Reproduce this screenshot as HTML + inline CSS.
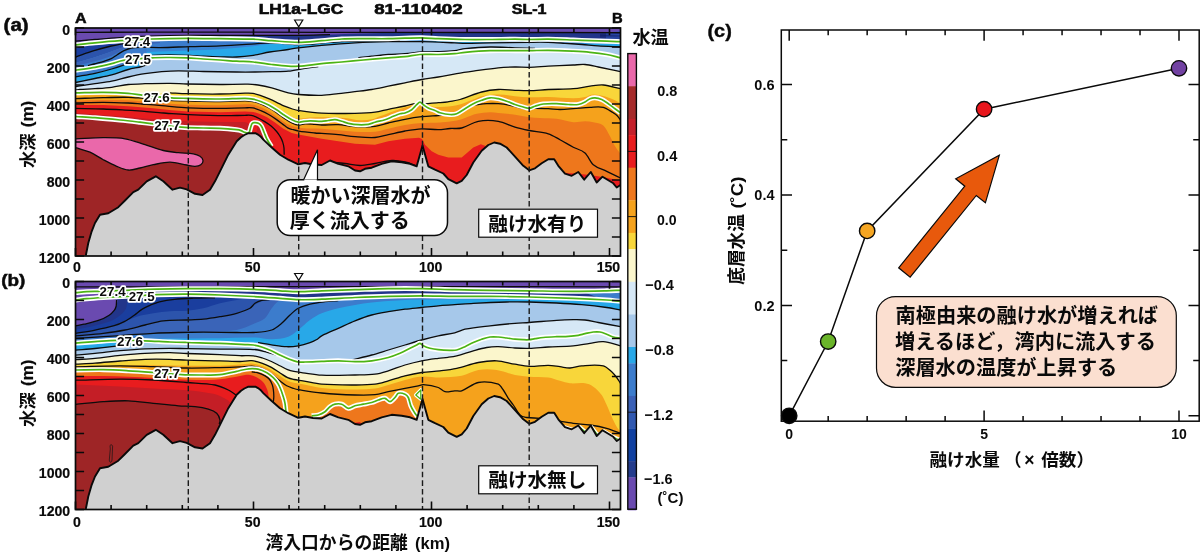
<!DOCTYPE html><html><head><meta charset="utf-8"><title>fig</title><style>
html,body{margin:0;padding:0;background:#fff}svg{display:block}text{font-family:"Liberation Sans","Noto Sans CJK JP",sans-serif;font-weight:bold;fill:#0a0a0a}
</style></head><body>
<svg width="1200" height="557" viewBox="0 0 1200 557" style="will-change:transform">
<rect width="1200" height="557" fill="#fff"/>
<defs><clipPath id="ca"><rect x="75.5" y="28" width="545" height="228"/></clipPath><clipPath id="cb"><rect x="75.5" y="281.5" width="545" height="228"/></clipPath></defs>
<g clip-path="url(#ca)">
<rect x="75.5" y="28" width="545" height="228" fill="#6a4ab0"/>
<path d="M205 37.5C210 37 215 36.3 220 36C226.67 35.6 233.33 35.46 240 35.4C260 35.22 280 35.44 300 35.3C308.33 35.24 316.67 35.04 325 34.8C331.67 34.61 338.33 34.23 345 34C351.67 33.77 358.33 33.51 365 33.4C376.67 33.21 388.33 33.11 400 33.1C473.5 33.01 547 33.1 620.5 33.1L620.5 60 L205 60 Z" fill="#22358a"/>
<path d="M606 33.1L612 32L620.5 31.2V38.5H606Z" fill="#2f52b4"/>
<path d="M600 34.3L620.5 33.4M600 35.6L620.5 35.2M600 36.9L620.5 36.8" stroke="#101a60" stroke-width="0.7" fill="none"/>
<path d="M75.5 45C75.9 44.93 76.3 44.85 76.7 44.8C82.8 44.11 88.9 43.38 95 42.8C103.33 42.01 111.67 41.26 120 40.7C130.57 39.99 141.13 39.38 151.7 39C163.37 38.58 175.03 38.35 186.7 38.3C197.8 38.25 208.9 38.55 220 38.7C231.1 38.85 242.2 38.77 253.3 39.2C259.43 39.44 265.57 40.28 271.7 40.7C280.57 41.31 289.43 42.3 298.3 42.3C306.1 42.3 313.9 41.29 321.7 40.7C328.37 40.19 335.03 39.32 341.7 39C348.9 38.65 356.1 38.75 363.3 38.7C371.63 38.65 379.97 38.8 388.3 38.7C393.87 38.63 399.43 38.35 405 38.2C410.57 38.05 416.13 37.72 421.7 37.8C427.23 37.88 432.77 38.48 438.3 38.7C447.2 39.05 456.1 39.36 465 39.5C473.33 39.63 481.67 39.55 490 39.5C498.33 39.45 506.67 39.2 515 39.2C519.73 39.2 524.47 39.5 529.2 39.5C535.57 39.5 541.93 39.13 548.3 39.2C556.63 39.29 564.97 39.7 573.3 40C578.87 40.2 584.43 40.5 590 40.7C595.57 40.9 601.13 41.02 606.7 41.2C611.3 41.35 615.9 41.53 620.5 41.7L620.5 256 L75.5 256 Z" fill="#3c7ccc"/>
<path d="M75.5 45C75.9 44.93 76.3 44.85 76.7 44.8C82.8 44.11 88.9 43.38 95 42.8C103.33 42.01 111.67 41.4 120 40.7L132 42C128.23 42.73 124.47 43.47 120.7 44.2C117.57 44.81 114.43 45.24 111.3 46C105.53 47.4 99.77 48.92 94 50.7C88.23 52.48 82.47 54.67 76.7 56.7C76.3 56.84 75.9 57.03 75.5 57.2Z" fill="#1a3e9e"/>
<path d="M75.5 57.2C75.9 57.03 76.3 56.84 76.7 56.7C82.47 54.67 88.23 52.48 94 50.7C99.77 48.92 105.53 47.4 111.3 46C114.43 45.24 117.57 44.81 120.7 44.2C124.47 43.47 128.23 42.48 132 42C135.33 41.58 138.67 41.67 142 41.5L142 42.5C138 43.4 134 44.17 130 45.2C126.9 46 123.8 46.93 120.7 48C116.23 49.53 111.77 51.41 107.3 53C102.87 54.58 98.43 56.13 94 57.5C87.83 59.4 81.67 61.03 75.5 62.8Z" fill="#2c54ac"/>
<path d="M75.5 62.8C81.67 61.03 87.83 59.4 94 57.5C98.43 56.13 102.87 54.58 107.3 53C111.77 51.41 116.23 49.53 120.7 48C123.8 46.93 126.9 46 130 45.2C134 44.17 138 42.93 142 42.5C148 41.86 154 42.17 160 42L160 43C155 43.5 150 43.84 145 44.5C140.33 45.11 135.67 45.74 131 46.8C128.33 47.41 125.67 48.31 123 49.5C120.67 50.54 118.33 52.31 116 53.5C113.1 54.98 110.2 56.45 107.3 57.5C102.87 59.11 98.43 60.31 94 61.5C87.83 63.15 81.67 64.5 75.5 66Z" fill="#3a64b8"/>
<path d="M146 62L147 48.2L160 47.6L190 46.6L220 45.8L255 43.8L270 42.8L285 43.6L298 44.6L310 44.2L322 43L342 41.5L365 41L400 40.5L620.5 44L620.5 256 L146 256 Z" fill="#28a8e8"/>
<path d="M147 47.4C151.33 47.47 155.67 47.68 160 47.6C170 47.41 180 46.9 190 46.6C200 46.3 210 46.23 220 45.8C231.67 45.3 243.33 44.5 255 43.8C260 43.5 265 43.13 270 42.8L275 43.2C271.67 43.67 268.33 44.15 265 44.6C260 45.28 255 46.09 250 46.6C240 47.62 230 48.57 220 49.2C210 49.83 200 50.03 190 50.4C180 50.77 170 51.03 160 51.4C155.67 51.56 151.33 51.8 147 52Z" fill="#3a84d4"/>
<path d="M75.5 70.3C75.9 70.2 76.3 70.06 76.7 70C82.8 69.09 88.9 68.5 95 67.4C100.57 66.4 106.13 65.08 111.7 63.7C115.57 62.74 119.43 60.97 123.3 60.4C132.77 59 142.23 58.39 151.7 57.8C157.8 57.42 163.9 57.5 170 57.5C175.57 57.5 181.13 57.77 186.7 57.8C187.8 57.81 188.9 57.71 190 57.6C194.43 57.17 198.87 56.32 203.3 56.2C208.87 56.05 214.43 56.67 220 56.8C225.57 56.93 231.13 57.25 236.7 57C242.23 56.75 247.77 56.14 253.3 55.3C258.77 54.47 264.23 52.91 269.7 52C275.9 50.97 282.1 50.41 288.3 49.5C291.63 49.01 294.97 48.22 298.3 47.8C306.1 46.82 313.9 45.99 321.7 45.3C332.8 44.32 343.9 43.4 355 42.8C366.1 42.2 377.2 41.88 388.3 41.7C399.43 41.52 410.57 41.52 421.7 41.7C432.7 41.88 443.7 42.39 454.7 42.8C458.13 42.93 461.57 43.3 465 43.3C473.33 43.3 481.67 42.93 490 42.8C503 42.6 516 42.41 529 42.3C535.33 42.25 541.67 42.12 548 42.3C553.67 42.46 559.33 42.93 565 43.3C570.67 43.67 576.33 44.07 582 44.5C587.33 44.9 592.67 45.45 598 45.8C605.5 46.29 613 46.6 620.5 47L620.5 256 L75.5 256 Z" fill="#a6c8ea"/>
<path d="M75.5 70.3C75.9 70.2 76.3 70.06 76.7 70C82.8 69.09 88.9 68.5 95 67.4C100.57 66.4 106.13 65.08 111.7 63.7C115.57 62.74 119.43 61.28 123.3 60.4C125.87 59.81 128.43 59.67 131 59.3L131 62C129 62.87 127 63.87 125 64.6C120.57 66.21 116.13 67.71 111.7 69C106.13 70.61 100.57 72.1 95 73.3C88.5 74.7 82 75.63 75.5 76.8Z" fill="#3c7ccc"/>
<path d="M75.5 76.8C82 75.63 88.5 74.7 95 73.3C100.57 72.1 106.13 70.61 111.7 69C116.13 67.71 120.57 66.21 125 64.6C127 63.87 129 62.64 131 62C134 61.04 137 60.25 140 59.8C143.67 59.25 147.33 59.27 151 59L151 62C150.33 62.67 149.67 63.68 149 64C146.57 65.18 144.13 65.85 141.7 66.5C137.23 67.69 132.77 68.25 128.3 69.5C122.77 71.05 117.23 73.4 111.7 74.9C106.13 76.4 100.57 77.33 95 78.5C88.5 79.86 82 81.17 75.5 82.5Z" fill="#28a8e8"/>
<path d="M75.5 86.6C76.43 86.47 77.37 86.34 78.3 86.2C83.87 85.37 89.43 84.53 95 83.7C100.57 82.87 106.13 82.32 111.7 81.2C117.23 80.09 122.77 78.25 128.3 77C133.87 75.75 139.43 74.58 145 73.7C150.57 72.82 156.13 72.18 161.7 71.7C167.23 71.22 172.77 70.83 178.3 70.8C186.63 70.76 194.97 71.33 203.3 71.5C214.43 71.73 225.57 71.89 236.7 72C242.8 72.06 248.9 72.05 255 72C260.57 71.95 266.13 71.83 271.7 71.7C277.23 71.57 282.77 71.76 288.3 71.2C293.87 70.63 299.43 69.17 305 68.3C309.43 67.61 313.87 67.36 318.3 66.5C323.87 65.42 329.43 63.71 335 62.5C342.77 60.81 350.53 59.13 358.3 57.8C362.77 57.03 367.23 56.69 371.7 56.2C377.23 55.59 382.77 54.92 388.3 54.5C393.87 54.08 399.43 54.12 405 53.7C410.57 53.28 416.13 52.33 421.7 52C427.23 51.67 432.77 51.92 438.3 51.7C443.77 51.48 449.23 51.31 454.7 50.7C458.13 50.31 461.57 49.06 465 48.7C473.33 47.83 481.67 47.15 490 47C498.33 46.85 506.67 47.56 515 47.8C521.67 47.99 528.33 47.79 535 48.3C539.33 48.63 543.67 49.97 548 50.3C556.33 50.94 564.67 50.8 573 51.2C578.67 51.47 584.33 51.75 590 52.3C595.57 52.85 601.13 53.5 606.7 54.5C611.3 55.33 615.9 56.7 620.5 57.8L620.5 256 L75.5 256 Z" fill="#d6e8f6"/>
<path d="M75.5 90C77 89.83 78.5 89.6 80 89.5C85 89.17 90 89.05 95 88.7C100.57 88.31 106.13 88 111.7 87.3C117.23 86.6 122.77 85.1 128.3 84.5C133.87 83.9 139.43 83.86 145 83.7C153.33 83.46 161.67 83.24 170 83.3C175.57 83.34 181.13 83.87 186.7 84C197.8 84.27 208.9 84.46 220 84.5C229.33 84.53 238.67 84.08 248 84.2C251.33 84.24 254.67 84.49 258 85C262.57 85.69 267.13 86.62 271.7 87.8C277.23 89.22 282.77 91.41 288.3 92.8C291.63 93.64 294.97 94.25 298.3 94.5C306.1 95.08 313.9 95.46 321.7 95.3C327.23 95.19 332.77 94.3 338.3 93.7C343.87 93.1 349.43 92.4 355 91.7C360.57 91 366.13 90.42 371.7 89.5C377.23 88.59 382.77 87.31 388.3 86.2C393.87 85.08 399.43 83.92 405 82.8C410.57 81.68 416.13 80.47 421.7 79.5C427.23 78.54 432.77 77.92 438.3 77C444.43 75.98 450.57 74.72 456.7 73.7C462.23 72.78 467.77 71.98 473.3 71.2C481.63 70.02 489.97 68.64 498.3 67.8C503.87 67.24 509.43 67.09 515 67C519.73 66.92 524.47 67.41 529.2 67.3C535.57 67.15 541.93 66.53 548.3 66.2C556.63 65.77 564.97 65.39 573.3 65C577.2 64.82 581.1 64.19 585 64.5C589.43 64.85 593.87 66.1 598.3 67C605.7 68.5 613.1 70.13 620.5 71.7L620.5 256 L75.5 256 Z" fill="#fbf6cc"/>
<path d="M75.5 93C84.67 93 93.83 92.83 103 93C111.33 93.16 119.67 93.6 128 94C133.67 94.27 139.33 95.04 145 95C150 94.97 155 94.24 160 93.8C163.33 93.51 166.67 92.81 170 92.8C175.57 92.78 181.13 93.57 186.7 93.7C197.8 93.97 208.9 94.1 220 94C228.33 93.93 236.67 93.35 245 93.2C247.63 93.15 250.27 93 252.9 93.4C255.53 93.8 258.17 94.72 260.8 95.6C263.43 96.48 266.07 97.58 268.7 98.7C271.33 99.82 273.97 101.05 276.6 102.3C279.23 103.55 281.87 105.08 284.5 106.2C287.13 107.32 289.77 108.18 292.4 109C294.5 109.65 296.6 110.3 298.7 110.6C306.37 111.7 314.03 112.83 321.7 113.2C332.8 113.73 343.9 113.51 355 113.3C361.67 113.17 368.33 113 375 112.2C379.43 111.67 383.87 110.22 388.3 109.3C393.87 108.15 399.43 107.22 405 106C407.77 105.39 410.53 104.16 413.3 103.8C416.1 103.43 418.9 103.92 421.7 103.8C427.23 103.56 432.77 103.12 438.3 102.7C441.53 102.45 444.77 102.28 448 101.8C452 101.21 456 100.66 460 99.5C467.23 97.4 474.47 93.89 481.7 92C487.23 90.56 492.77 89.78 498.3 89.5C503.87 89.22 509.43 90.08 515 90.3C519.73 90.48 524.47 90.81 529.2 90.7C535.57 90.55 541.93 89.79 548.3 89.5C556.63 89.12 564.97 89.36 573.3 88.7C578.87 88.26 584.43 86.89 590 86.2C594.43 85.65 598.87 84.64 603.3 85C609.03 85.47 614.77 87.47 620.5 88.7L620.5 256 L75.5 256 Z" fill="#f8d63a"/>
<path d="M75.5 95.5C84.67 95.33 93.83 94.91 103 95C111.33 95.08 119.67 95.4 128 96C133.67 96.4 139.33 97.53 145 98C153.33 98.69 161.67 99.1 170 99.5C175.57 99.77 181.13 99.89 186.7 100C197.8 100.22 208.9 100.6 220 100.5C228.33 100.43 236.67 99.68 245 99.5C247.63 99.44 250.27 99.35 252.9 99.8C255.53 100.25 258.17 101.2 260.8 102.2C263.43 103.2 266.07 104.47 268.7 105.8C271.33 107.13 273.97 108.83 276.6 110.2C279.23 111.57 281.87 112.82 284.5 114C287.13 115.18 289.77 116.43 292.4 117.3C294.5 118 296.6 118.68 298.7 118.7C302.47 118.74 306.23 117.68 310 117.5C316.67 117.18 323.33 117.1 330 117.2C335 117.27 340 117.48 345 118C350 118.52 355 120.06 360 120.3C364 120.49 368 120.1 372 119.3C374.67 118.77 377.33 117.31 380 116.3C383.33 115.04 386.67 113.72 390 112.5C393.33 111.28 396.67 110.08 400 109C403.33 107.92 406.67 107.2 410 106C412.67 105.04 415.33 103.42 418 102.5C419 102.15 420 101.84 421 102.2C422.33 102.68 423.67 104.48 425 105C427.33 105.91 429.67 106.19 432 106.5C434.67 106.86 437.33 107.13 440 107C445.57 106.73 451.13 106.55 456.7 105.3C462.23 104.05 467.77 101.51 473.3 99.5C476.1 98.48 478.9 96.76 481.7 96.2C487.23 95.09 492.77 94.5 498.3 94.5C503.87 94.5 509.43 95.7 515 96.2C519.73 96.63 524.47 97.19 529.2 97.3C535.57 97.45 541.93 96.86 548.3 97C556.63 97.19 564.97 98.3 573.3 98.3C577.2 98.3 581.1 97.74 585 97C587.77 96.47 590.53 94.5 593.3 94.5C597.77 94.5 602.23 95.81 606.7 97C609.47 97.74 612.23 98.96 615 100.3C616.83 101.19 618.67 102.57 620.5 103.7L620.5 256 L75.5 256 Z" fill="#f5a21c"/>
<path d="M75.5 100.8C84.77 100.53 94.03 100.11 103.3 100C111.63 99.91 119.97 99.89 128.3 100.2C133.3 100.39 138.3 101.07 143.3 101.5C152.2 102.27 161.1 103.12 170 103.8C175.57 104.22 181.13 104.64 186.7 104.8C197.8 105.11 208.9 105.3 220 105.2C228.33 105.13 236.67 104.4 245 104.3C247.77 104.27 250.53 104.25 253.3 104.8C256.1 105.35 258.9 106.32 261.7 107.6C265.03 109.12 268.37 111.1 271.7 113.2C275.03 115.3 278.37 117.95 281.7 120.2C283.9 121.68 286.1 123.54 288.3 124.4C292.77 126.14 297.23 127.41 301.7 128C308.37 128.88 315.03 128.34 321.7 128.8C332.8 129.57 343.9 131.1 355 131.7C361.67 132.06 368.33 132.28 375 131.7C379.43 131.31 383.87 129.79 388.3 128.8C393.87 127.56 399.43 125.97 405 125C410.57 124.03 416.13 123.41 421.7 123C427.8 122.55 433.9 122.84 440 122.4C445.57 122 451.13 121.48 456.7 120.5C459.47 120.01 462.23 118.93 465 118C468.9 116.69 472.8 114.7 476.7 113.8C481.13 112.77 485.57 112.36 490 112.2C492.77 112.1 495.53 112.72 498.3 113C503.87 113.56 509.43 113.94 515 114.7C519.73 115.34 524.47 116.58 529.2 117.2C532.8 117.68 536.4 117.79 540 118C545.57 118.32 551.13 118.1 556.7 118.8C562.23 119.5 567.77 121.71 573.3 122.2C577.2 122.54 581.1 121.3 585 121.3C587.77 121.3 590.53 121.57 593.3 122.2C596.63 122.97 599.97 122.69 603.3 125.5C605.53 127.39 607.77 132.33 610 136.3C611.67 139.26 613.33 143.52 615 146.3C616.83 149.36 618.67 151.3 620.5 153.8L620.5 256 L75.5 256 Z" fill="#ee771c"/>
<path d="M75.5 105L103.3 105L128.3 106.2L153.3 108.3L172 110.3L188 111.6L220 112.2L245 111.5L253.3 111.9L260 114L267 117.3L275 122.6L283 128.5L291.7 133L298.3 134.6L321.7 138.8L355 143.8L375 144.7L388.3 141.3L405 138.8L419 137.8L422 139L425 144.7L431.7 151.3L438.3 154.7L448.3 157.5L461.7 157.5L473.3 147.5L480.8 144.2L485 145.8L488 200L488 256 L75.5 256 Z" fill="#e81c1e"/>
<path d="M560 172.5L575 173.5L590 175L605 177.5L620.5 180.5V200H560Z" fill="#e81c1e"/>
<path d="M75.5 113C93.1 114.33 110.7 115.6 128.3 117C142.2 118.1 156.1 119.74 170 120.5C186.67 121.41 203.33 121.66 220 122C227.67 122.16 235.33 121.72 243 122C244.5 122.05 246 122.14 247.5 123C248.33 123.48 249.17 125 250 126L250 140 L75.5 140 Z" fill="#c41e26"/>
<path d="M251 134L251.6 128L253 124.3L254.5 123.4L258 124L260.8 127L263.2 133L265.7 139L268.3 143.5L272 148L262 141L256 134Z" fill="#e81c1e"/>
<path d="M257.5 126L260.5 129L263 134.5L265.6 139.6L268.2 143.8L271.8 147.8L263.3 140L256.5 134Z" fill="#c41e26"/>
<path d="M75.5 116.5C82 116.9 88.5 117.19 95 117.7C103.33 118.36 111.67 119.17 120 120C126.67 120.67 133.33 121.44 140 122.2C144.43 122.71 148.87 123.27 153.3 123.8C162.77 124.94 172.23 126.4 181.7 127.2C188.9 127.8 196.1 127.79 203.3 128C208.87 128.16 214.43 128.02 220 128.3C225.57 128.58 231.13 129.09 236.7 129.7C238.13 129.86 239.57 130.13 241 130.6C242.13 130.97 243.27 131.79 244.4 132.2C245.47 132.59 246.53 132.66 247.6 133C248.4 133.26 249.2 133.67 250 134L250 256 L75.5 256 Z" fill="#9e2526"/>
<path d="M75.5 138.8C84.77 138.43 94.03 137.7 103.3 137.7C110.54 137.7 117.86 137.6 125 138.8C131.85 139.95 138.35 142.67 145 144.7C151.12 146.57 157.08 149.01 163.3 150.5C168.21 151.68 173.28 152.15 178.3 152.7C183.28 153.25 188.35 152.98 193.3 153.8C195.65 154.19 198.04 154.95 200 156.3C201.42 157.28 202.84 158.79 203 160.5C203.15 162.07 202.08 163.77 200.8 164.7C199.18 165.88 197.01 166.26 195 166.3C192.2 166.36 189.46 165.45 186.7 165C181.13 164.09 175.64 162.25 170 162.2C164.37 162.15 158.83 163.63 153.3 164.7C148.82 165.57 144.47 167.05 140 168C136.13 168.82 132.25 170.29 128.3 170C124.25 169.7 120.45 167.85 116.7 166.3C112.1 164.4 107.7 162.03 103.3 159.7C98.8 157.32 94.67 154.22 90 152.2C85.35 150.19 80.33 149.2 75.5 147.7Z" fill="#ea68aa" stroke="#0c0c0c" stroke-width="1.3"/>
<path d="M75.5 32.3C100.33 32.27 125.17 32.22 150 32.2C180 32.18 210 32.18 240 32.2C293.33 32.24 346.67 32.34 400 32.4C473.5 32.48 547 32.53 620.5 32.6" fill="none" stroke="#0c0c0c" stroke-width="1.3"/>
<path d="M75.5 41.2C82 40.63 88.5 40.03 95 39.5C103.33 38.83 111.67 38.1 120 37.6C130 37 140 36.51 150 36.2C163.33 35.78 176.67 35.53 190 35.4C206.67 35.23 223.33 35.32 240 35.3C260 35.28 280 35.43 300 35.3C310 35.23 320 34.9 330 34.7" fill="none" stroke="#0c0c0c" stroke-width="1.3"/>
<path d="M75.5 57.2C75.9 57.03 76.3 56.84 76.7 56.7C82.47 54.67 88.23 52.48 94 50.7C99.77 48.92 105.53 47.4 111.3 46C114.43 45.24 117.57 44.81 120.7 44.2C124.47 43.47 128.23 42.73 132 42" fill="none" stroke="#0c0c0c" stroke-width="1.3"/>
<path d="M88 65.8C90 65.2 92 64.56 94 64C97.33 63.06 100.67 62.32 104 61.3C106.43 60.55 108.87 59.91 111.3 58.7C113.3 57.71 115.3 55.96 117.3 54.7C119.53 53.29 121.77 51.77 124 50.7C126.43 49.54 128.87 48.5 131.3 48C134.43 47.36 137.57 47.34 140.7 47.3C147.13 47.21 153.57 47.69 160 47.6C170 47.46 180 46.9 190 46.6C200 46.3 210 46.23 220 45.8C231.67 45.3 243.33 44.5 255 43.8C260 43.5 265 42.83 270 42.8C275 42.77 280 43.28 285 43.6C289.33 43.88 293.67 44.5 298 44.6C302 44.7 306 44.47 310 44.2C314 43.93 318 43.34 322 43C328.67 42.44 335.33 41.81 342 41.5C349.67 41.14 357.33 41.13 365 41C376.67 40.8 388.33 40.67 400 40.5" fill="none" stroke="#0c0c0c" stroke-width="1.3"/>
<path d="M75.5 76.8C82 75.63 88.5 74.7 95 73.3C100.57 72.1 106.13 70.61 111.7 69C116.13 67.71 120.57 66.21 125 64.6C127 63.87 129 62.87 131 62" fill="none" stroke="#0c0c0c" stroke-width="1.3"/>
<path d="M75.5 82.5C82 81.17 88.5 79.86 95 78.5C100.57 77.33 106.13 76.4 111.7 74.9C117.23 73.4 122.77 71.05 128.3 69.5C132.77 68.25 137.23 67.69 141.7 66.5C144.13 65.85 146.57 64.83 149 64" fill="none" stroke="#0c0c0c" stroke-width="1.3"/>
<path d="M152 55.4C158 55.27 164 54.98 170 55C176.67 55.02 183.33 55.26 190 55.5C194.43 55.66 198.87 56.01 203.3 56.2C208.87 56.44 214.43 56.67 220 56.8C225.57 56.93 231.13 57.25 236.7 57C242.23 56.75 247.77 56.14 253.3 55.3C258.77 54.47 264.23 52.91 269.7 52C275.9 50.97 282.1 50.41 288.3 49.5C291.63 49.01 294.97 48.22 298.3 47.8C306.1 46.82 313.9 45.99 321.7 45.3C332.8 44.32 343.9 43.4 355 42.8C366.1 42.2 377.2 41.88 388.3 41.7C399.43 41.52 410.57 41.52 421.7 41.7C432.7 41.88 443.7 42.39 454.7 42.8C458.13 42.93 461.57 43.3 465 43.3C473.33 43.3 481.67 42.93 490 42.8C503 42.6 516 42.41 529 42.3C535.33 42.25 541.67 42.12 548 42.3C553.67 42.46 559.33 42.93 565 43.3C570.67 43.67 576.33 44.07 582 44.5C587.33 44.9 592.67 45.45 598 45.8C605.5 46.29 613 46.6 620.5 47" fill="none" stroke="#0c0c0c" stroke-width="1.3"/>
<path d="M75.5 86.6C76.43 86.47 77.37 86.34 78.3 86.2C83.87 85.37 89.43 84.53 95 83.7C100.57 82.87 106.13 82.32 111.7 81.2C117.23 80.09 122.77 78.25 128.3 77C133.87 75.75 139.43 74.58 145 73.7C150.57 72.82 156.13 72.18 161.7 71.7C167.23 71.22 172.77 70.83 178.3 70.8C186.63 70.76 194.97 71.33 203.3 71.5C214.43 71.73 225.57 71.89 236.7 72C242.8 72.06 248.9 72.05 255 72C260.57 71.95 266.13 71.83 271.7 71.7C277.23 71.57 282.77 71.76 288.3 71.2C293.87 70.63 299.43 69.17 305 68.3C309.43 67.61 313.87 67.1 318.3 66.5" fill="none" stroke="#0c0c0c" stroke-width="1.3"/>
<path d="M358.3 57.8C362.77 57.27 367.23 56.69 371.7 56.2C377.23 55.59 382.77 54.92 388.3 54.5C393.87 54.08 399.43 54.12 405 53.7C410.57 53.28 416.13 52.33 421.7 52C427.23 51.67 432.77 51.92 438.3 51.7C443.77 51.48 449.23 51.31 454.7 50.7C458.13 50.31 461.57 49.06 465 48.7C473.33 47.83 481.67 47.15 490 47C498.33 46.85 506.67 47.56 515 47.8C521.67 47.99 528.33 48.13 535 48.3" fill="none" stroke="#0c0c0c" stroke-width="1.3"/>
<path d="M75.5 90C77 89.83 78.5 89.6 80 89.5C85 89.17 90 89.05 95 88.7C100.57 88.31 106.13 88 111.7 87.3C117.23 86.6 122.77 85.1 128.3 84.5C133.87 83.9 139.43 83.86 145 83.7C153.33 83.46 161.67 83.24 170 83.3C175.57 83.34 181.13 83.87 186.7 84C197.8 84.27 208.9 84.46 220 84.5C229.33 84.53 238.67 84.08 248 84.2C251.33 84.24 254.67 84.49 258 85C262.57 85.69 267.13 86.62 271.7 87.8C277.23 89.22 282.77 91.41 288.3 92.8C291.63 93.64 294.97 94.25 298.3 94.5C306.1 95.08 313.9 95.46 321.7 95.3C327.23 95.19 332.77 94.3 338.3 93.7C343.87 93.1 349.43 92.4 355 91.7C360.57 91 366.13 90.42 371.7 89.5C377.23 88.59 382.77 87.31 388.3 86.2C393.87 85.08 399.43 83.92 405 82.8C410.57 81.68 416.13 80.47 421.7 79.5C427.23 78.54 432.77 77.92 438.3 77C444.43 75.98 450.57 74.72 456.7 73.7C462.23 72.78 467.77 71.98 473.3 71.2C481.63 70.02 489.97 68.64 498.3 67.8C503.87 67.24 509.43 67.09 515 67C519.73 66.92 524.47 67.41 529.2 67.3C535.57 67.15 541.93 66.53 548.3 66.2C556.63 65.77 564.97 65.39 573.3 65C577.2 64.82 581.1 64.19 585 64.5C589.43 64.85 593.87 66.1 598.3 67C605.7 68.5 613.1 70.13 620.5 71.7" fill="none" stroke="#0c0c0c" stroke-width="1.3"/>
<path d="M170 92.8C175.57 93.1 181.13 93.57 186.7 93.7C197.8 93.97 208.9 94.1 220 94C228.33 93.93 236.67 93.35 245 93.2C247.63 93.15 250.27 93 252.9 93.4C255.53 93.8 258.17 94.72 260.8 95.6C263.43 96.48 266.07 97.58 268.7 98.7C271.33 99.82 273.97 101.05 276.6 102.3C279.23 103.55 281.87 105.08 284.5 106.2C287.13 107.32 289.77 108.18 292.4 109C294.5 109.65 296.6 110.3 298.7 110.6C306.37 111.7 314.03 112.83 321.7 113.2C332.8 113.73 343.9 113.51 355 113.3C361.67 113.17 368.33 113 375 112.2C379.43 111.67 383.87 110.22 388.3 109.3C393.87 108.15 399.43 107.22 405 106C407.77 105.39 410.53 104.16 413.3 103.8C416.1 103.43 418.9 103.92 421.7 103.8C427.23 103.56 432.77 103.12 438.3 102.7C441.53 102.45 444.77 102.28 448 101.8C452 101.21 456 100.66 460 99.5C467.23 97.4 474.47 93.89 481.7 92C487.23 90.56 492.77 89.78 498.3 89.5C503.87 89.22 509.43 90.08 515 90.3C519.73 90.48 524.47 90.81 529.2 90.7C535.57 90.55 541.93 89.79 548.3 89.5C556.63 89.12 564.97 89.36 573.3 88.7C578.87 88.26 584.43 86.89 590 86.2C594.43 85.65 598.87 84.64 603.3 85C609.03 85.47 614.77 87.47 620.5 88.7" fill="none" stroke="#0c0c0c" stroke-width="1.3"/>
<path d="M75.5 98.6C84.77 98.27 94.03 97.83 103.3 97.6C111.63 97.39 119.97 97.15 128.3 97.3C133.3 97.39 138.3 97.94 143.3 98.3C152.2 98.94 161.1 99.77 170 100.3C175.57 100.63 181.13 100.77 186.7 100.9C197.8 101.17 208.9 101.5 220 101.5C228.33 101.5 236.67 100.9 245 100.9C247.63 100.9 250.27 101.02 252.9 101.5C255.53 101.98 258.17 102.75 260.8 103.8C263.43 104.85 266.07 106.32 268.7 107.8C271.33 109.28 273.97 110.92 276.6 112.7C279.23 114.48 281.87 116.75 284.5 118.5C287.13 120.25 289.77 121.98 292.4 123.2C294.5 124.18 296.6 125 298.7 125.1C300.8 125.2 302.9 123.89 305 123.8C308.33 123.66 311.67 124.16 315 124.4C317.23 124.56 319.47 124.97 321.7 125C327.23 125.07 332.77 124.42 338.3 124.7C343.87 124.98 349.43 126.46 355 126.7C361.67 126.99 368.33 127.04 375 126.3C379.43 125.81 383.87 124.03 388.3 123C393.87 121.7 399.43 120.35 405 119.3C410.57 118.25 416.13 117.34 421.7 116.7C427.23 116.07 432.77 115.9 438.3 115.5C443.77 115.1 449.23 114.7 454.7 114.3" fill="none" stroke="#0c0c0c" stroke-width="1.3"/>
<path d="M473.3 105.3C477.77 104.77 482.23 103.99 486.7 103.7C490.57 103.45 494.43 103.43 498.3 103.7C502.2 103.97 506.1 104.56 510 105.3C513.33 105.93 516.67 107.07 520 107.8C523.07 108.47 526.13 109.38 529.2 109.5C530.57 109.55 531.93 108.36 533.3 108.3C538.3 108.09 543.3 108.48 548.3 108.7C552.2 108.88 556.1 109.5 560 109.5C564.43 109.5 568.87 109.03 573.3 108.7C578.87 108.29 584.43 107.56 590 107.3C594.43 107.09 598.87 106.25 603.3 107.3C606.63 108.09 609.97 110.8 613.3 112.8C614.53 113.54 615.77 114.27 617 115.5C618.17 116.67 619.33 118.5 620.5 120" fill="none" stroke="#0c0c0c" stroke-width="1.3"/>
<path d="M75.5 102.9C84.77 102.7 94.03 102.28 103.3 102.3C111.63 102.32 119.97 102.63 128.3 103C132.87 103.2 137.43 103.66 142 104C147.67 104.42 153.33 104.79 159 105.3C163.33 105.69 167.67 106.33 172 106.7C177.33 107.16 182.67 107.62 188 107.8C198.67 108.16 209.33 108.3 220 108.3C228.33 108.3 236.67 107.9 245 107.8C247.63 107.77 250.27 107.43 252.9 107.9C255.53 108.37 258.17 109.5 260.8 110.6C263.43 111.7 266.07 113 268.7 114.5C271.33 116 273.97 117.75 276.6 119.6C279.23 121.45 281.87 123.63 284.5 125.6C285.57 126.4 286.63 127.37 287.7 127.9C289.27 128.67 290.83 129.04 292.4 129.5C294.5 130.11 296.6 130.77 298.7 131.1C304.13 131.94 309.57 132.46 315 133C317.23 133.22 319.47 133.24 321.7 133.4C327.23 133.8 332.77 134.15 338.3 134.7C343.87 135.25 349.43 136.28 355 136.7C361.67 137.21 368.33 137.9 375 137.5C379.43 137.23 383.87 135.66 388.3 134.7C393.87 133.49 399.43 131.98 405 131C410.57 130.02 416.13 129.02 421.7 128.8C427.23 128.58 432.77 129.76 438.3 129.7C442.2 129.66 446.1 128.78 450 128.5C453.9 128.22 457.8 128.99 461.7 128C467.23 126.59 472.77 122.31 478.3 121.3C484.97 120.08 491.63 120.23 498.3 121.3C503.87 122.19 509.43 125.54 515 127.2C519.73 128.61 524.47 129.56 529.2 130.5C535.57 131.76 541.93 131.9 548.3 133.8C552.2 134.96 556.1 137.61 560 139.7C564.43 142.08 568.87 144.84 573.3 147.2C577.2 149.27 581.1 149.59 585 153C587.77 155.42 590.53 162.37 593.3 164.7C597.77 168.47 602.23 169.12 606.7 171.3C611.3 173.55 615.9 175.77 620.5 178" fill="none" stroke="#0c0c0c" stroke-width="1.3"/>
<path d="M75.5 108.4C84.77 108.6 94.03 108.68 103.3 109C110.53 109.25 117.77 109.69 125 110.1C130.67 110.42 136.33 110.78 142 111.2C147.67 111.62 153.33 112.13 159 112.6C163.33 112.96 167.67 113.4 172 113.7C177.33 114.07 182.67 114.4 188 114.6C200.33 115.07 212.67 115.55 225 115.7C231.67 115.78 238.33 115.38 245 115.3C247.1 115.28 249.2 115.04 251.3 115.4C253.13 115.71 254.97 116.45 256.8 117.3C259.43 118.52 262.07 120 264.7 121.6C266.83 122.9 268.97 124.23 271.1 126C272.93 127.53 274.77 129.39 276.6 131.5C277.67 132.73 278.73 134.19 279.8 136C280.7 137.53 281.6 138.93 282.5 141.5C283 142.93 283.5 144.12 284 148C284.07 148.52 284.13 152.47 284.2 154.7" fill="none" stroke="#0c0c0c" stroke-width="1.3"/>
<path d="M330 162C335 162.5 340 162.92 345 163.5C350 164.08 355 165.5 360 165.5C365 165.5 370 164.28 375 163.5C380.67 162.61 386.33 160.78 392 160.5C396.33 160.28 400.67 161.1 405 162C408.67 162.76 412.33 164.33 416 165.5" fill="none" stroke="#0c0c0c" stroke-width="1.3"/>
<path d="M75.5 45C75.9 44.93 76.3 44.85 76.7 44.8C82.8 44.11 88.9 43.38 95 42.8C103.33 42.01 111.67 41.26 120 40.7C130.57 39.99 141.13 39.38 151.7 39C163.37 38.58 175.03 38.35 186.7 38.3C197.8 38.25 208.9 38.55 220 38.7C231.1 38.85 242.2 38.77 253.3 39.2C259.43 39.44 265.57 40.28 271.7 40.7C280.57 41.31 289.43 42.3 298.3 42.3C306.1 42.3 313.9 41.29 321.7 40.7C328.37 40.19 335.03 39.32 341.7 39C348.9 38.65 356.1 38.75 363.3 38.7C371.63 38.65 379.97 38.8 388.3 38.7C393.87 38.63 399.43 38.35 405 38.2C410.57 38.05 416.13 37.72 421.7 37.8C427.23 37.88 432.77 38.48 438.3 38.7C447.2 39.05 456.1 39.36 465 39.5C473.33 39.63 481.67 39.55 490 39.5C498.33 39.45 506.67 39.2 515 39.2C519.73 39.2 524.47 39.5 529.2 39.5C535.57 39.5 541.93 39.13 548.3 39.2C556.63 39.29 564.97 39.7 573.3 40C578.87 40.2 584.43 40.5 590 40.7C595.57 40.9 601.13 41.02 606.7 41.2C611.3 41.35 615.9 41.53 620.5 41.7" fill="none" stroke="#fff" stroke-width="4.9" stroke-linejoin="round"/>
<path d="M75.5 70.3C75.9 70.2 76.3 70.06 76.7 70C82.8 69.09 88.9 68.5 95 67.4C100.57 66.4 106.13 65.08 111.7 63.7C115.57 62.74 119.43 60.97 123.3 60.4C132.77 59 142.23 58.39 151.7 57.8C157.8 57.42 163.9 57.5 170 57.5C175.57 57.5 181.13 57.55 186.7 57.8C192.23 58.05 197.77 58.63 203.3 59C208.87 59.37 214.43 59.63 220 60C225.57 60.37 231.13 60.87 236.7 61.2C242.23 61.53 247.77 61.48 253.3 62C259.43 62.58 265.57 63.76 271.7 64.5C277.23 65.16 282.77 65.85 288.3 66.2C291.63 66.41 294.97 66.45 298.3 66.2C306.1 65.62 313.9 64.45 321.7 63.7C328.37 63.05 335.03 62.59 341.7 62C348.9 61.36 356.1 60.65 363.3 60C371.63 59.25 379.97 58.46 388.3 57.8C393.87 57.36 399.43 57.28 405 56.7C410 56.18 415 54.83 420 54.5C426.1 54.1 432.2 54.64 438.3 54.5C443.77 54.37 449.23 54.15 454.7 53.7C458.13 53.42 461.57 52.59 465 52.3C473.33 51.59 481.67 50.97 490 50.7C498.33 50.43 506.67 50.7 515 50.7C519.73 50.7 524.47 50.76 529.2 50.7C535.57 50.62 541.93 50.23 548.3 50.3C556.63 50.39 564.97 50.8 573.3 51.2C578.87 51.47 584.43 51.75 590 52.3C595.57 52.85 601.13 53.5 606.7 54.5C611.3 55.33 615.9 56.7 620.5 57.8" fill="none" stroke="#fff" stroke-width="4.9" stroke-linejoin="round"/>
<path d="M75.5 92.8C84.77 92.63 94.03 92.21 103.3 92.3C111.63 92.38 119.97 92.67 128.3 93.3C133.3 93.67 138.3 94.78 143.3 95.3C152.77 96.28 162.23 97.15 171.7 97.8C176.7 98.15 181.7 98.18 186.7 98.3C197.8 98.58 208.9 99 220 99C228.33 99 236.67 98.27 245 98.3C247.63 98.31 250.27 98.57 252.9 99.1C255.53 99.63 258.17 100.52 260.8 101.5C263.43 102.48 266.07 103.62 268.7 105C271.33 106.38 273.97 108.08 276.6 109.8C279.23 111.52 281.87 113.6 284.5 115.3C287.13 117 289.77 118.72 292.4 120C294.5 121.02 296.6 121.87 298.7 122.2C299.97 122.4 301.23 121.75 302.5 121.6C305 121.31 307.5 120.94 310 120.9C313.9 120.84 317.8 121.39 321.7 121.3C323.9 121.25 326.1 120.76 328.3 120.5C330.53 120.23 332.77 119.57 335 119.7C337.23 119.83 339.47 120.7 341.7 121.3C343.9 121.9 346.1 122.85 348.3 123.3C351.63 123.98 354.97 124.53 358.3 124.7C361.63 124.87 364.97 124.8 368.3 124.3C370.53 123.97 372.77 122.82 375 122.2C378.33 121.28 381.67 120.77 385 119.7C387.77 118.81 390.53 117.39 393.3 116.3C395.53 115.42 397.77 114.43 400 113.8C401.67 113.33 403.33 113.58 405 113C407.23 112.22 409.47 111.28 411.7 109.7C413.37 108.52 415.03 106.21 416.7 104.7C417.8 103.71 418.9 102.2 420 102.2C421.1 102.2 422.2 103.93 423.3 104.7C424.97 105.86 426.63 107.17 428.3 108C430.53 109.11 432.77 109.58 435 110.5C436.67 111.18 438.33 112.36 440 112.8C443.33 113.69 446.67 114.32 450 114.5C452.23 114.62 454.47 114.56 456.7 113.7C459.47 112.63 462.23 110.37 465 108.7C467.77 107.03 470.53 105.09 473.3 103.7C476.1 102.29 478.9 101.29 481.7 100.3C484.47 99.32 487.23 98.07 490 97.8C492.77 97.53 495.53 98.14 498.3 98.7C501.1 99.27 503.9 100.23 506.7 101.2C509.47 102.16 512.23 103.53 515 104.5C517.77 105.47 520.53 106.26 523.3 107C525.27 107.53 527.23 108.43 529.2 108.3C531.13 108.17 533.07 106.79 535 106.2C537.77 105.36 540.53 104.32 543.3 104C547.77 103.49 552.23 103.61 556.7 103.7C560.57 103.78 564.43 104.36 568.3 104.5C571.63 104.62 574.97 105 578.3 104.5C580.53 104.17 582.77 103.11 585 102C586.67 101.17 588.33 99.4 590 98.7C591.67 98 593.33 97.69 595 97.8C597.23 97.95 599.47 98.51 601.7 99.5C603.9 100.48 606.1 102.18 608.3 103.7C610.53 105.24 612.77 107.03 615 108.7C616.83 110.07 618.67 111.43 620.5 112.8" fill="none" stroke="#fff" stroke-width="4.9" stroke-linejoin="round"/>
<path d="M75.5 116.5C82 116.9 88.5 117.19 95 117.7C103.33 118.36 111.67 119.17 120 120C126.67 120.67 133.33 121.44 140 122.2C144.43 122.71 148.87 123.27 153.3 123.8C162.77 124.94 172.23 126.4 181.7 127.2C188.9 127.8 196.1 127.79 203.3 128C208.87 128.16 214.43 128.02 220 128.3C225.57 128.58 231.13 129.09 236.7 129.7C238.13 129.86 239.57 130.13 241 130.6C242.13 130.97 243.27 131.79 244.4 132.2C245.47 132.59 246.53 133.04 247.6 133C248.2 132.98 248.8 133.03 249.4 132C249.73 131.43 250.07 129.28 250.4 128.2C250.9 126.58 251.4 124.69 251.9 123.9C252.57 122.85 253.23 122.77 253.9 122.7C255.4 122.54 256.9 122.51 258.4 123.2C259.43 123.68 260.47 124.54 261.5 126.2C262.33 127.54 263.17 130.18 264 132.2C264.83 134.22 265.67 136.53 266.5 138.3C267.33 140.07 268.17 141.43 269 142.8C269.83 144.17 270.67 145.27 271.5 146.5" fill="none" stroke="#fff" stroke-width="4.9" stroke-linejoin="round"/>
<path d="M75.5 45C75.9 44.93 76.3 44.85 76.7 44.8C82.8 44.11 88.9 43.38 95 42.8C103.33 42.01 111.67 41.26 120 40.7C130.57 39.99 141.13 39.38 151.7 39C163.37 38.58 175.03 38.35 186.7 38.3C197.8 38.25 208.9 38.55 220 38.7C231.1 38.85 242.2 38.77 253.3 39.2C259.43 39.44 265.57 40.28 271.7 40.7C280.57 41.31 289.43 42.3 298.3 42.3C306.1 42.3 313.9 41.29 321.7 40.7C328.37 40.19 335.03 39.32 341.7 39C348.9 38.65 356.1 38.75 363.3 38.7C371.63 38.65 379.97 38.8 388.3 38.7C393.87 38.63 399.43 38.35 405 38.2C410.57 38.05 416.13 37.72 421.7 37.8C427.23 37.88 432.77 38.48 438.3 38.7C447.2 39.05 456.1 39.36 465 39.5C473.33 39.63 481.67 39.55 490 39.5C498.33 39.45 506.67 39.2 515 39.2C519.73 39.2 524.47 39.5 529.2 39.5C535.57 39.5 541.93 39.13 548.3 39.2C556.63 39.29 564.97 39.7 573.3 40C578.87 40.2 584.43 40.5 590 40.7C595.57 40.9 601.13 41.02 606.7 41.2C611.3 41.35 615.9 41.53 620.5 41.7" fill="none" stroke="#4cb414" stroke-width="1.7" stroke-linejoin="round"/>
<path d="M75.5 70.3C75.9 70.2 76.3 70.06 76.7 70C82.8 69.09 88.9 68.5 95 67.4C100.57 66.4 106.13 65.08 111.7 63.7C115.57 62.74 119.43 60.97 123.3 60.4C132.77 59 142.23 58.39 151.7 57.8C157.8 57.42 163.9 57.5 170 57.5C175.57 57.5 181.13 57.55 186.7 57.8C192.23 58.05 197.77 58.63 203.3 59C208.87 59.37 214.43 59.63 220 60C225.57 60.37 231.13 60.87 236.7 61.2C242.23 61.53 247.77 61.48 253.3 62C259.43 62.58 265.57 63.76 271.7 64.5C277.23 65.16 282.77 65.85 288.3 66.2C291.63 66.41 294.97 66.45 298.3 66.2C306.1 65.62 313.9 64.45 321.7 63.7C328.37 63.05 335.03 62.59 341.7 62C348.9 61.36 356.1 60.65 363.3 60C371.63 59.25 379.97 58.46 388.3 57.8C393.87 57.36 399.43 57.28 405 56.7C410 56.18 415 54.83 420 54.5C426.1 54.1 432.2 54.64 438.3 54.5C443.77 54.37 449.23 54.15 454.7 53.7C458.13 53.42 461.57 52.59 465 52.3C473.33 51.59 481.67 50.97 490 50.7C498.33 50.43 506.67 50.7 515 50.7C519.73 50.7 524.47 50.76 529.2 50.7C535.57 50.62 541.93 50.23 548.3 50.3C556.63 50.39 564.97 50.8 573.3 51.2C578.87 51.47 584.43 51.75 590 52.3C595.57 52.85 601.13 53.5 606.7 54.5C611.3 55.33 615.9 56.7 620.5 57.8" fill="none" stroke="#4cb414" stroke-width="1.7" stroke-linejoin="round"/>
<path d="M75.5 92.8C84.77 92.63 94.03 92.21 103.3 92.3C111.63 92.38 119.97 92.67 128.3 93.3C133.3 93.67 138.3 94.78 143.3 95.3C152.77 96.28 162.23 97.15 171.7 97.8C176.7 98.15 181.7 98.18 186.7 98.3C197.8 98.58 208.9 99 220 99C228.33 99 236.67 98.27 245 98.3C247.63 98.31 250.27 98.57 252.9 99.1C255.53 99.63 258.17 100.52 260.8 101.5C263.43 102.48 266.07 103.62 268.7 105C271.33 106.38 273.97 108.08 276.6 109.8C279.23 111.52 281.87 113.6 284.5 115.3C287.13 117 289.77 118.72 292.4 120C294.5 121.02 296.6 121.87 298.7 122.2C299.97 122.4 301.23 121.75 302.5 121.6C305 121.31 307.5 120.94 310 120.9C313.9 120.84 317.8 121.39 321.7 121.3C323.9 121.25 326.1 120.76 328.3 120.5C330.53 120.23 332.77 119.57 335 119.7C337.23 119.83 339.47 120.7 341.7 121.3C343.9 121.9 346.1 122.85 348.3 123.3C351.63 123.98 354.97 124.53 358.3 124.7C361.63 124.87 364.97 124.8 368.3 124.3C370.53 123.97 372.77 122.82 375 122.2C378.33 121.28 381.67 120.77 385 119.7C387.77 118.81 390.53 117.39 393.3 116.3C395.53 115.42 397.77 114.43 400 113.8C401.67 113.33 403.33 113.58 405 113C407.23 112.22 409.47 111.28 411.7 109.7C413.37 108.52 415.03 106.21 416.7 104.7C417.8 103.71 418.9 102.2 420 102.2C421.1 102.2 422.2 103.93 423.3 104.7C424.97 105.86 426.63 107.17 428.3 108C430.53 109.11 432.77 109.58 435 110.5C436.67 111.18 438.33 112.36 440 112.8C443.33 113.69 446.67 114.32 450 114.5C452.23 114.62 454.47 114.56 456.7 113.7C459.47 112.63 462.23 110.37 465 108.7C467.77 107.03 470.53 105.09 473.3 103.7C476.1 102.29 478.9 101.29 481.7 100.3C484.47 99.32 487.23 98.07 490 97.8C492.77 97.53 495.53 98.14 498.3 98.7C501.1 99.27 503.9 100.23 506.7 101.2C509.47 102.16 512.23 103.53 515 104.5C517.77 105.47 520.53 106.26 523.3 107C525.27 107.53 527.23 108.43 529.2 108.3C531.13 108.17 533.07 106.79 535 106.2C537.77 105.36 540.53 104.32 543.3 104C547.77 103.49 552.23 103.61 556.7 103.7C560.57 103.78 564.43 104.36 568.3 104.5C571.63 104.62 574.97 105 578.3 104.5C580.53 104.17 582.77 103.11 585 102C586.67 101.17 588.33 99.4 590 98.7C591.67 98 593.33 97.69 595 97.8C597.23 97.95 599.47 98.51 601.7 99.5C603.9 100.48 606.1 102.18 608.3 103.7C610.53 105.24 612.77 107.03 615 108.7C616.83 110.07 618.67 111.43 620.5 112.8" fill="none" stroke="#4cb414" stroke-width="1.7" stroke-linejoin="round"/>
<path d="M75.5 116.5C82 116.9 88.5 117.19 95 117.7C103.33 118.36 111.67 119.17 120 120C126.67 120.67 133.33 121.44 140 122.2C144.43 122.71 148.87 123.27 153.3 123.8C162.77 124.94 172.23 126.4 181.7 127.2C188.9 127.8 196.1 127.79 203.3 128C208.87 128.16 214.43 128.02 220 128.3C225.57 128.58 231.13 129.09 236.7 129.7C238.13 129.86 239.57 130.13 241 130.6C242.13 130.97 243.27 131.79 244.4 132.2C245.47 132.59 246.53 133.04 247.6 133C248.2 132.98 248.8 133.03 249.4 132C249.73 131.43 250.07 129.28 250.4 128.2C250.9 126.58 251.4 124.69 251.9 123.9C252.57 122.85 253.23 122.77 253.9 122.7C255.4 122.54 256.9 122.51 258.4 123.2C259.43 123.68 260.47 124.54 261.5 126.2C262.33 127.54 263.17 130.18 264 132.2C264.83 134.22 265.67 136.53 266.5 138.3C267.33 140.07 268.17 141.43 269 142.8C269.83 144.17 270.67 145.27 271.5 146.5" fill="none" stroke="#4cb414" stroke-width="1.7" stroke-linejoin="round"/>
<path d="M352 170L357 172.3L363 171" fill="none" stroke="#4cb414" stroke-width="2"/>
<path d="M75.5 256L85.8 255.5L88.3 243L91.7 231.3L95 223L100 214.7L108.3 213.3L118.3 207.2L125 200.5L133.3 192.2L138.3 189.7L146.7 181.3L155.8 176.3L163.3 181.3L172.5 189.7L180 187.7L186.7 189.3L195 193.8L202.5 195L210 189.7L215 181.3L220 171.3L228.3 154.7L236.7 141.3L241 137.2L244.4 135L248.4 133.2L255.4 133.2L258 134.6L260.5 136.4L263.3 139.6L271.7 147.5L280 154.7L288.3 159.7L298.3 164.3L305 163L313 164.5L321.7 165L330 160.5L338.3 163.8L348.3 166.3L355 170.5L360 171.3L365 168.8L371.7 167.7L381.7 163.8L391.7 161.3L401.7 162.2L410 163.8L416.7 166.3L422.5 145.5L428.3 166.3L435 169.7L443.3 173.5L448.3 179.2L456.7 183.3L461.7 180.8L466.7 175L473.3 162.5L481.7 150.8L488.3 145L494.2 142.5L500 143.7L506.7 147.5L515 156.7L523.3 165.8L529.2 170.3L535 168.3L541.7 163.3L548.3 159.2L554.2 159.2L558.3 165.8L565 173.7L571.7 175.8L578.3 172L584.2 179.7L590.8 172L596.7 182.5L602.5 176.7L608.3 180.3L613.3 183.3L616.7 187.5L620.5 185L620.5 256 L75.5 256 Z" fill="#d0d0d0"/><path d="M85.8 255.5L88.3 243L91.7 231.3L95 223L100 214.7L108.3 213.3L118.3 207.2L125 200.5L133.3 192.2L138.3 189.7L146.7 181.3L155.8 176.3L163.3 181.3L172.5 189.7L180 187.7L186.7 189.3L195 193.8L202.5 195L210 189.7L215 181.3L220 171.3L228.3 154.7L236.7 141.3L241 137.2L244.4 135L248.4 133.2L255.4 133.2L258 134.6L260.5 136.4L263.3 139.6L271.7 147.5L280 154.7L288.3 159.7L298.3 164.3L305 163L313 164.5L321.7 165L330 160.5L338.3 163.8L348.3 166.3L355 170.5L360 171.3L365 168.8L371.7 167.7L381.7 163.8L391.7 161.3L401.7 162.2L410 163.8L416.7 166.3L422.5 145.5L428.3 166.3L435 169.7L443.3 173.5L448.3 179.2L456.7 183.3L461.7 180.8L466.7 175L473.3 162.5L481.7 150.8L488.3 145L494.2 142.5L500 143.7L506.7 147.5L515 156.7L523.3 165.8L529.2 170.3L535 168.3L541.7 163.3L548.3 159.2L554.2 159.2L558.3 165.8L565 173.7L571.7 175.8L578.3 172L584.2 179.7L590.8 172L596.7 182.5L602.5 176.7L608.3 180.3L613.3 183.3L616.7 187.5L620.5 185" fill="none" stroke="#0a0a0a" stroke-width="1.9" stroke-linejoin="round"/>
</g>
<path d="M188.3 29 V256" stroke="#1a1a1a" stroke-width="1.4" stroke-dasharray="5.6 3" fill="none"/><path d="M298.7 29 V256" stroke="#1a1a1a" stroke-width="1.4" stroke-dasharray="5.6 3" fill="none"/><path d="M422.5 29 V256" stroke="#1a1a1a" stroke-width="1.4" stroke-dasharray="5.6 3" fill="none"/><path d="M529.2 29 V256" stroke="#1a1a1a" stroke-width="1.4" stroke-dasharray="5.6 3" fill="none"/><path d="M75.5 256 v-8M75.5 28 v7.2M111.1 256 v-4.5M111.1 28 v4.05M146.7 256 v-4.5M146.7 28 v4.05M182.3 256 v-4.5M182.3 28 v4.05M217.9 256 v-4.5M217.9 28 v4.05M253.5 256 v-8M253.5 28 v7.2M289.1 256 v-4.5M289.1 28 v4.05M324.7 256 v-4.5M324.7 28 v4.05M360.3 256 v-4.5M360.3 28 v4.05M395.9 256 v-4.5M395.9 28 v4.05M431.5 256 v-8M431.5 28 v7.2M467.1 256 v-4.5M467.1 28 v4.05M502.7 256 v-4.5M502.7 28 v4.05M538.3 256 v-4.5M538.3 28 v4.05M573.9 256 v-4.5M573.9 28 v4.05M609.5 256 v-8M609.5 28 v7.2M75.5 28 h8.6M620.5 28 h-8.6M75.5 47 h8.6M620.5 47 h-8.6M75.5 66 h8.6M620.5 66 h-8.6M75.5 85 h8.6M620.5 85 h-8.6M75.5 104 h8.6M620.5 104 h-8.6M75.5 123 h8.6M620.5 123 h-8.6M75.5 142 h8.6M620.5 142 h-8.6M75.5 161 h8.6M620.5 161 h-8.6M75.5 180 h8.6M620.5 180 h-8.6M75.5 199 h8.6M620.5 199 h-8.6M75.5 218 h8.6M620.5 218 h-8.6M75.5 237 h8.6M620.5 237 h-8.6M75.5 256 h8.6M620.5 256 h-8.6" stroke="#0a0a0a" stroke-width="1.6" fill="none"/><rect x="75.5" y="28" width="545" height="228" fill="none" stroke="#0a0a0a" stroke-width="1.7"/>
<g clip-path="url(#cb)">
<rect x="75.5" y="281.5" width="545" height="228" fill="#6a4ab0"/>
<path d="M118 291C130.9 290.5 143.8 289.75 156.7 289.5C177.8 289.09 198.9 288.63 220 289C246 289.46 272 292 298 292C328 292 358 289.38 388 289C410 288.72 432 289.7 454 290C493.67 290.54 533.33 291.38 573 291.5C588.83 291.55 604.67 290.83 620.5 290.5L620.5 301.3C615.9 300.87 611.3 300.29 606.7 300C595.57 299.29 584.43 298.73 573.3 298.3C558.6 297.73 543.9 297.35 529.2 297C516.13 296.69 503.07 296.42 490 296.3C478.23 296.19 466.47 296.39 454.7 296.3C443.7 296.22 432.7 295.8 421.7 295.8C410.57 295.8 399.43 296.02 388.3 296.3C377.2 296.58 366.1 297.02 355 297.5C343.9 297.98 332.8 298.77 321.7 299.2C313.9 299.5 306.1 299.87 298.3 299.7C292.2 299.57 286.1 298.73 280 298.3C271.1 297.67 262.2 296.99 253.3 296.5C242.2 295.89 231.1 295.38 220 295C208.9 294.62 197.8 294.25 186.7 294.2C176.7 294.15 166.7 294.35 156.7 294.7C146.97 295.05 137.23 295.77 127.5 296.3Z" fill="#22358a"/>
<path d="M75.5 300.2C79.23 299.7 82.97 299.06 86.7 298.7C92.23 298.16 97.77 297.83 103.3 297.5C111.37 297.03 119.43 296.72 127.5 296.3C137.23 295.79 146.97 295.05 156.7 294.7C166.7 294.35 176.7 294.15 186.7 294.2C197.8 294.25 208.9 294.62 220 295C231.1 295.38 242.2 295.89 253.3 296.5C262.2 296.99 271.1 297.67 280 298.3C286.1 298.73 292.2 299.57 298.3 299.7C306.1 299.87 313.9 299.5 321.7 299.2C332.8 298.77 343.9 297.98 355 297.5C366.1 297.02 377.2 296.58 388.3 296.3C399.43 296.02 410.57 295.8 421.7 295.8C432.7 295.8 443.7 296.22 454.7 296.3C466.47 296.39 478.23 296.19 490 296.3C503.07 296.42 516.13 296.69 529.2 297C543.9 297.35 558.6 297.73 573.3 298.3C584.43 298.73 595.57 299.29 606.7 300C611.3 300.29 615.9 300.87 620.5 301.3L620.5 509.5 L75.5 509.5 Z" fill="#1a3e9e"/>
<path d="M75.5 299C93 298.67 110.55 296.64 128 298C129.69 298.13 127.32 301.33 127 303C126.65 304.83 126.86 306.85 126 308.5C124.8 310.81 122.98 312.81 121 314.5C118.27 316.82 115.27 318.93 112 320.4C107.87 322.26 103.38 323.21 99 324.4C94.04 325.75 89.03 326.93 84 328C81.19 328.6 78.33 328.93 75.5 329.4Z" fill="#22358a"/>
<path d="M75.5 299.5C89.2 299.5 103.07 297.34 116.6 299.5C118.74 299.84 116.67 303.88 116.2 306C115.85 307.57 115.18 309.12 114.2 310.4C112.8 312.24 111.14 313.94 109.2 315.2C106.05 317.25 102.64 318.94 99.1 320.2C94.2 321.95 89.07 323 84 324.2C81.19 324.87 78.33 325.27 75.5 325.8Z" fill="#6a4ab0"/>
<path d="M75.5 333C82 332.07 88.5 331.42 95 330.2C100.57 329.15 106.13 327.74 111.7 326.2C114.47 325.44 117.23 324.35 120 323.3C125.57 321.18 131.13 318.37 136.7 316.7C142.23 315.04 147.77 314.2 153.3 313.3C158.87 312.4 164.43 311.72 170 311.3C175.57 310.88 181.13 311.3 186.7 310.8C192.23 310.3 197.77 309.55 203.3 308.3C208.87 307.05 214.43 304.68 220 303.3C225.57 301.92 231.13 300.97 236.7 300C242.23 299.04 247.77 297.54 253.3 297.5C375.7 296.7 498.1 297.5 620.5 297.5L620.5 509.5 L75.5 509.5 Z" fill="#2c54ac"/>
<path d="M75.5 335.5C84.77 334.67 94.03 334.1 103.3 333C110.53 332.14 117.77 331.07 125 329.6C131.67 328.24 138.33 326.12 145 324.5C151.1 323.02 157.2 321.03 163.3 320.3C171.1 319.36 178.9 319.79 186.7 319.5C192.23 319.29 197.77 319.3 203.3 318.8C208.87 318.3 214.43 317.42 220 316.5C225.57 315.58 231.13 314.82 236.7 313.3C241.13 312.09 245.57 310.44 250 308.3C252.67 307.01 255.33 304.23 258 303C261.33 301.46 264.67 300.49 268 300C273.67 299.16 279.33 299.02 285 299C396.83 298.52 508.67 298.67 620.5 298.5L620.5 509.5 L75.5 509.5 Z" fill="#3a64b8"/>
<path d="M75.5 338.3C84.77 337.77 94.03 337.28 103.3 336.7C111.63 336.18 119.97 335.57 128.3 335C136.63 334.43 144.97 333.72 153.3 333.3C161.63 332.88 169.97 332.68 178.3 332.5C186.63 332.32 194.97 332.56 203.3 332.2C214.43 331.72 225.57 331.92 236.7 330C242.8 328.95 248.9 325.82 255 323.3C258.33 321.92 261.67 321.29 265 318.3C267.23 316.29 269.47 311.32 271.7 308.3C273.37 306.05 275.03 303.92 276.7 302.5C278.47 300.99 280.23 299.52 282 299.5C394.83 298.35 507.67 299.17 620.5 299L620.5 509.5 L75.5 509.5 Z" fill="#3c7ccc"/>
<path d="M75.5 341.5C90.33 340.83 105.17 339.97 120 339.5C136.67 338.97 153.33 338.7 170 338.5C186.67 338.3 203.33 338.5 220 338.3C231.67 338.16 243.33 337.3 255 337.5C260.57 337.6 266.13 339.33 271.7 339.2C277.23 339.07 282.77 338.61 288.3 336.7C291.63 335.55 294.97 332.57 298.3 330C302.2 327 306.1 322.78 310 320C313.9 317.22 317.8 314.91 321.7 313.3C327.23 311.01 332.77 309.68 338.3 308.3C343.87 306.91 349.43 305.97 355 305C360.57 304.03 366.13 303.1 371.7 302.5C380.03 301.6 388.37 301 396.7 300.5C405.03 300 413.37 299.54 421.7 299.5C487.97 299.2 554.23 299.5 620.5 299.5L620.5 509.5 L75.5 509.5 Z" fill="#28a8e8"/>
<path d="M585 292.5L620.5 292V300L600 298.5Z" fill="#3c7ccc"/>
<path d="M75.5 350.2C82 349.63 88.5 349.13 95 348.5C100.57 347.96 106.13 347.35 111.7 346.7C114.47 346.38 117.23 345.91 120 345.6C126.67 344.85 133.33 343.63 140 343.5C160 343.1 180 344 200 344C216.67 344 233.33 343.87 250 343.5C252.67 343.44 255.33 342.53 258 342.7C262.47 342.99 266.93 344.28 271.4 344.9C276.5 345.61 281.6 346.53 286.7 346.7C290.6 346.83 294.5 346.47 298.4 345.8C302.27 345.14 306.13 344 310 342.7C312.1 342 314.2 341.04 316.3 339.8C318.1 338.74 319.9 336.74 321.7 335.8C327.23 332.91 332.77 330.79 338.3 328.3C343.87 325.79 349.43 323.02 355 320.8C360.57 318.58 366.13 316.52 371.7 315C377.23 313.49 382.77 312.66 388.3 311.7C393.87 310.73 399.43 309.9 405 309.2C410.57 308.5 416.13 308.07 421.7 307.5C427.23 306.94 432.77 306.27 438.3 305.8C443.77 305.34 449.23 305.09 454.7 304.7C460.9 304.26 467.1 303.62 473.3 303.3C484.43 302.72 495.57 302.26 506.7 302C514.2 301.83 521.7 301.85 529.2 302C538.37 302.18 547.53 302.53 556.7 303C565.03 303.43 573.37 303.95 581.7 304.7C590.03 305.45 598.37 306.36 606.7 307.5C611.3 308.13 615.9 309.17 620.5 310L620.5 509.5 L75.5 509.5 Z" fill="#a6c8ea"/>
<path d="M75.5 355.2C82 354.6 88.5 354.06 95 353.4C103.33 352.56 111.67 351.47 120 350.7C128.33 349.93 136.67 349.2 145 348.8C153.33 348.4 161.67 348.32 170 348.3C175.57 348.29 181.13 348.6 186.7 348.7C197.8 348.9 208.9 349.09 220 349.2C230 349.29 240 349.09 250 349.3C252.67 349.36 255.33 349.57 258 350C260.33 350.37 262.67 351.08 265 351.7C268.9 352.74 272.8 353.68 276.7 355C280.47 356.28 284.23 358.45 288 359.5C292 360.62 296 361.19 300 361.5C306.67 362.02 313.33 362.08 320 362C326.67 361.92 333.33 361.42 340 361C343.9 360.75 347.8 360.74 351.7 360C358.37 358.74 365.03 356.82 371.7 355C377.23 353.49 382.77 351.66 388.3 350C393.87 348.33 399.43 346.67 405 345C410.57 343.33 416.13 341.54 421.7 340C427.23 338.47 432.77 337.01 438.3 335.8C443.77 334.61 449.23 334.15 454.7 332.8C458.13 331.95 461.57 329.88 465 329.2C473.33 327.55 481.67 326.78 490 325.8C498.33 324.82 506.67 324 515 323.3C519.73 322.9 524.47 322.84 529.2 322.5C538.37 321.84 547.53 320.88 556.7 320.3C562.23 319.95 567.77 319.76 573.3 319.7C577.2 319.66 581.1 319.56 585 320C589.43 320.5 593.87 321.66 598.3 322.5C605.7 323.9 613.1 325.3 620.5 326.7L620.5 509.5 L75.5 509.5 Z" fill="#d6e8f6"/>
<path d="M75.5 359.7C82 359.23 88.5 358.93 95 358.3C103.33 357.49 111.67 356.23 120 355.4C128.33 354.57 136.67 353.77 145 353.3C153.33 352.83 161.67 352.56 170 352.6C175.57 352.63 181.13 353.28 186.7 353.5C197.8 353.94 208.9 354.14 220 354.6C226.67 354.88 233.33 355.46 240 355.7C244.5 355.86 249 355.34 253.5 355.8C256.47 356.1 259.43 357.06 262.4 358C265.4 358.96 268.4 360.17 271.4 361.5C274.4 362.83 277.4 364.5 280.4 366C282.8 367.2 285.2 368.64 287.6 369.6C289.7 370.44 291.8 370.96 293.9 371.4C296.87 372.02 299.83 372.39 302.8 372.8C309.1 373.66 315.4 374.93 321.7 375.2C332.8 375.67 343.9 375.21 355 375C361.67 374.87 368.33 375.04 375 374.2C379.43 373.64 383.87 372.16 388.3 370.8C393.87 369.09 399.43 366.67 405 365C410.57 363.33 416.13 361.92 421.7 360.8C427.23 359.69 432.77 359.04 438.3 358.3C441.53 357.87 444.77 357.74 448 357.3C450.9 356.91 453.8 356.55 456.7 355.8C462.23 354.38 467.77 352.33 473.3 350.8C477.77 349.56 482.23 348.23 486.7 347.5C490.57 346.87 494.43 346.63 498.3 346.7C503.87 346.8 509.43 347.71 515 348C519.73 348.25 524.47 348.44 529.2 348.3C535.57 348.11 541.93 347.36 548.3 347C556.63 346.53 564.97 346.54 573.3 345.8C578.87 345.31 584.43 344.06 590 343.3C594.43 342.69 598.87 341.34 603.3 341.7C609.03 342.17 614.77 344.43 620.5 345.8L620.5 509.5 L75.5 509.5 Z" fill="#fbf6cc"/>
<path d="M75.5 364.2C82 363.83 88.5 363.57 95 363.1C103.33 362.5 111.67 361.63 120 361C128.33 360.37 136.67 359.58 145 359.3C153.33 359.02 161.67 359.12 170 359.3C175.57 359.42 181.13 360.03 186.7 360.2C197.8 360.53 208.9 360.53 220 360.8C226.67 360.96 233.33 361.52 240 361.5C243.9 361.49 247.8 360.39 251.7 360.7C255.27 360.99 258.83 362.09 262.4 363.3C265.4 364.32 268.4 365.75 271.4 367.4C274.4 369.05 277.4 371.29 280.4 373.2C282.8 374.73 285.2 376.58 287.6 377.7C289.7 378.68 291.8 379.07 293.9 379.5C296.87 380.11 299.83 380.3 302.8 380.8C309.1 381.87 315.4 383.69 321.7 384.2C332.8 385.09 343.9 385 355 385C361.67 385 368.33 385.04 375 384.2C379.43 383.64 383.87 382.04 388.3 380.8C393.87 379.24 399.43 377.18 405 375.8C410.57 374.42 416.13 373.3 421.7 372.5C427.8 371.63 433.9 371.53 440 370.8C445.57 370.13 451.13 369.51 456.7 368.3C463.9 366.74 471.1 363.85 478.3 362.5C484.43 361.35 490.57 360.52 496.7 360.8C502.8 361.08 508.9 363.17 515 364.2C519.73 365 524.47 366.14 529.2 366.3C535.57 366.51 541.93 365.22 548.3 365.3C552.2 365.35 556.1 366.21 560 366.7C563.33 367.11 566.67 368.14 570 368C573.9 367.84 577.8 366.06 581.7 365.8C588.9 365.32 596.1 364.38 603.3 365.8C606.1 366.35 608.9 369.26 611.7 371.7C613.37 373.16 615.03 375.3 616.7 377.5C617.97 379.17 619.23 381.37 620.5 383.3L620.5 509.5 L75.5 509.5 Z" fill="#f8d63a"/>
<path d="M75.5 366.5C90.33 366.1 105.17 365.47 120 365.3C136.67 365.11 153.33 365.32 170 365.4C186.67 365.48 203.33 365.99 220 365.8C226.67 365.72 233.33 365.06 240 364.6C243.9 364.33 247.8 363.36 251.7 363.6C255.27 363.82 258.83 364.81 262.4 366C265.4 367.01 268.4 368.5 271.4 370.2C274.4 371.9 277.4 374.24 280.4 376.2C282.8 377.77 285.2 379.63 287.6 380.8C289.7 381.83 291.8 382.32 293.9 382.8C296.87 383.48 299.83 383.75 302.8 384.3C309.1 385.48 315.4 387.37 321.7 388C332.8 389.11 343.9 389.4 355 389.5C361.67 389.56 368.33 389.4 375 388.5C379.43 387.9 383.87 386.26 388.3 385C393.87 383.42 399.43 381.42 405 380C410.57 378.58 416.13 376.9 421.7 376.5C427.8 376.06 433.9 377.61 440 377.5C447.23 377.37 454.47 377.22 461.7 375.8C467.23 374.72 472.77 370.92 478.3 370C484.43 368.98 490.57 369.16 496.7 370C502.8 370.83 508.9 373.74 515 375C519.73 375.98 524.47 376.34 529.2 376.7C535.57 377.18 541.93 376.65 548.3 377.5C552.2 378.02 556.1 379.76 560 380.8C563.33 381.69 566.67 382.97 570 383.3C575 383.8 580 382.57 585 383.3C587.77 383.7 590.53 384.76 593.3 386.7C596.1 388.66 598.9 391.18 601.7 395C603.37 397.28 605.03 401.38 606.7 405C608.37 408.62 610.03 413.08 611.7 416.7C613.37 420.32 615.03 423.86 616.7 426.7C617.97 428.86 619.23 430.03 620.5 431.7L620.5 509.5 L75.5 509.5 Z" fill="#f5a21c"/>
<path d="M75.5 372.3C84.77 372.2 94.03 371.88 103.3 372C111.63 372.11 119.97 372.55 128.3 373C136.63 373.45 144.97 374.08 153.3 374.7C162.77 375.41 172.23 376.51 181.7 377C188.9 377.37 196.1 377.3 203.3 377.3C208.87 377.3 214.43 377.62 220 377C225.57 376.38 231.13 374.76 236.7 373.6C239.47 373.02 242.23 372.2 245 371.8C247.77 371.4 250.53 371.03 253.3 371.2C256.1 371.37 258.9 371.82 261.7 372.8C263.47 373.42 265.23 374.68 267 376C268.67 377.25 270.33 378.75 272 380.5C273.5 382.08 275 383.75 276.5 386C277.33 387.25 278.17 389 279 391C279.83 393 280.67 395.08 281.5 398C282 399.75 282.5 400.6 283 405C283.33 407.93 283.67 415 284 420L284 509.5 L75.5 509.5 Z" fill="#ee771c"/>
<path d="M75.5 376.2C84.77 376.13 94.03 375.89 103.3 376C111.64 376.09 119.97 376.47 128.3 376.8C136.64 377.13 144.97 377.59 153.3 378C164.43 378.55 175.56 379.37 186.7 379.7C196.13 379.98 205.58 380.33 215 379.8C221.72 379.42 228.35 378.06 235 377C238.36 376.46 241.63 375.45 245 375C246.65 374.78 248.37 374.66 250 375C252.43 375.51 254.82 376.33 257 377.5C259.2 378.69 261.36 380.11 263 382C264.76 384.03 266.02 386.5 267 389C267.87 391.22 268.5 393.61 268.5 396C268.5 398.39 267.62 400.7 267 403C265.46 408.7 263.67 414.33 262 420L262 509.5 L75.5 509.5 Z" fill="#e81c1e"/>
<path d="M75.5 384.5C90.33 385.17 105.17 385.74 120 386.5C131.1 387.07 142.2 387.87 153.3 388.5C164.43 389.13 175.57 389.35 186.7 390.3C195.03 391.01 203.37 391.92 211.7 393.5C215.13 394.15 218.57 395.06 222 397C225.33 398.89 228.67 399.52 232 405C233.33 407.19 234.67 415 236 420L236 509.5 L75.5 509.5 Z" fill="#c41e26"/>
<path d="M75.5 404.4C84.77 403.5 94.01 402.33 103.3 401.7C111.62 401.13 119.97 400.53 128.3 400.8C136.67 401.07 144.97 402.47 153.3 403.3C161.63 404.13 169.95 405.12 178.3 405.8C183.86 406.25 189.46 406.07 195 406.7C199.48 407.21 203.98 407.89 208.3 409.2C211.28 410.11 214.41 411.19 216.7 413.3C218.53 414.99 219.43 417.58 220 420C220.31 421.32 219.59 422.7 219.2 424C217.59 429.37 215.73 434.67 214 440L214 509.5 L75.5 509.5 Z" fill="#9e2526"/>
<path d="M311.7 415.8C313.9 415.53 316.1 415.68 318.3 415C320.53 414.31 322.77 413.28 325 411.7C326.67 410.52 328.33 407.95 330 406.7C331.67 405.45 333.33 404.56 335 404.2C337.23 403.72 339.47 403.51 341.7 404.2C343.9 404.88 346.1 408.04 348.3 408.3C350.53 408.57 352.77 406.41 355 405.8C357.77 405.04 360.53 404.75 363.3 404.2C366.1 403.65 368.9 403.28 371.7 402.5C373.9 401.88 376.1 400.69 378.3 400C380.53 399.29 382.77 397.98 385 398.3C386.67 398.54 388.33 401.83 390 401.7C391.67 401.57 393.33 399.19 395 397.5C396.1 396.39 397.2 393.66 398.3 393.3C400.53 392.56 402.77 393.26 405 394.2C406.1 394.66 407.2 395.3 408.3 397.5C409.13 399.17 409.97 403.83 410.8 405.8C412.2 409.1 413.6 411.06 415 413.3C415.83 414.63 416.67 415.43 417.5 416.5L417.5 430 L311.7 430 Z" fill="#ee771c"/>
<path d="M353 423L357 425L362 424.5L360 422Z" fill="#e81c1e"/>
<path d="M75.5 286.8C117 286.8 158.5 286.83 200 286.8C266.67 286.76 333.33 286.6 400 286.6C473.5 286.6 547 286.73 620.5 286.8" fill="none" stroke="#0c0c0c" stroke-width="1.3"/>
<path d="M116.6 300C116.47 302 116.33 305.42 116.2 306C115.53 308.89 114.87 309.52 114.2 310.4C112.53 312.59 110.87 314.12 109.2 315.2C105.83 317.38 102.47 319 99.1 320.2C94.07 322 89.03 323.01 84 324.2C81.17 324.87 78.33 325.27 75.5 325.8" fill="none" stroke="#0c0c0c" stroke-width="1.3"/>
<path d="M75.5 333.4C81.7 332.37 87.9 331.53 94.1 330.3C100.8 328.97 107.5 327.61 114.2 325.7C117.57 324.74 120.93 323.46 124.3 321.7C127.63 319.96 130.97 317.53 134.3 315.2C136.97 313.33 139.63 310.77 142.3 309.1C145 307.41 147.7 306.25 150.4 305.1C153.4 303.82 156.4 302.52 159.4 301.8C164.43 300.59 169.47 299.83 174.5 299.3C180.87 298.63 187.23 298.44 193.6 298.2C200.73 297.94 207.87 297.93 215 297.8" fill="none" stroke="#0c0c0c" stroke-width="1.3"/>
<path d="M75.5 335.9C84.77 335.03 94.03 334.4 103.3 333.3C110.53 332.44 117.77 331.44 125 330C131.67 328.67 138.33 326.6 145 325C151.1 323.53 157.2 321.53 163.3 320.8C171.1 319.86 178.9 320.31 186.7 320C192.23 319.78 197.77 319.75 203.3 319.2C208.87 318.65 214.43 317.68 220 316.7C225.57 315.72 231.13 314.86 236.7 313.3C241.13 312.06 245.57 310.72 250 308.3C251.67 307.39 253.33 304.43 255 303.3C257.23 301.79 259.47 300.96 261.7 300.4C264.37 299.73 267.03 299.87 269.7 299.6" fill="none" stroke="#0c0c0c" stroke-width="1.3"/>
<path d="M75.5 338.4C84.77 337.83 94.03 337.3 103.3 336.7C111.63 336.16 119.97 335.57 128.3 335C136.63 334.43 144.97 333.72 153.3 333.3C161.63 332.88 169.97 332.68 178.3 332.5C186.63 332.32 194.97 332.2 203.3 332.2C214.43 332.2 225.57 332.43 236.7 332.5C242.23 332.53 247.77 332.9 253.3 332.5C259.43 332.06 265.57 331.99 271.7 330C275.03 328.92 278.37 326.03 281.7 323.3C284.47 321.03 287.23 317.5 290 315C292.77 312.5 295.53 309.79 298.3 308.3C302.2 306.19 306.1 305.16 310 304.2C315 302.96 320 302.35 325 301.7C329.43 301.12 333.87 300.9 338.3 300.5" fill="none" stroke="#0c0c0c" stroke-width="1.3"/>
<path d="M75.5 350.2C82 349.63 88.5 349.13 95 348.5C100.57 347.96 106.13 347.35 111.7 346.7C114.47 346.38 117.23 345.97 120 345.6" fill="none" stroke="#0c0c0c" stroke-width="1.3"/>
<path d="M258 342.7C262.47 343.43 266.93 344.28 271.4 344.9C276.5 345.61 281.6 346.53 286.7 346.7C290.6 346.83 294.5 346.47 298.4 345.8C302.27 345.14 306.13 344 310 342.7C312.1 342 314.2 341.04 316.3 339.8C318.1 338.74 319.9 336.74 321.7 335.8C327.23 332.91 332.77 330.79 338.3 328.3C343.87 325.79 349.43 323.02 355 320.8C360.57 318.58 366.13 316.52 371.7 315C377.23 313.49 382.77 312.66 388.3 311.7C393.87 310.73 399.43 309.9 405 309.2C410.57 308.5 416.13 308.07 421.7 307.5C427.23 306.94 432.77 306.27 438.3 305.8C443.77 305.34 449.23 305.09 454.7 304.7C460.9 304.26 467.1 303.62 473.3 303.3C484.43 302.72 495.57 302.26 506.7 302C514.2 301.83 521.7 301.85 529.2 302C538.37 302.18 547.53 302.53 556.7 303C565.03 303.43 573.37 303.95 581.7 304.7C590.03 305.45 598.37 306.36 606.7 307.5C611.3 308.13 615.9 309.17 620.5 310" fill="none" stroke="#0c0c0c" stroke-width="1.3"/>
<path d="M75.5 355.2C82 354.6 88.5 354.06 95 353.4C103.33 352.56 111.67 351.47 120 350.7C128.33 349.93 136.67 349.2 145 348.8C153.33 348.4 161.67 348.32 170 348.3C175.57 348.29 181.13 348.6 186.7 348.7C197.8 348.9 208.9 349.09 220 349.2C230 349.29 240 349.09 250 349.3C252.67 349.36 255.33 349.57 258 350C260.33 350.37 262.67 351.08 265 351.7C268.9 352.74 272.8 353.9 276.7 355" fill="none" stroke="#0c0c0c" stroke-width="1.3"/>
<path d="M351.7 360C358.37 358.33 365.03 356.82 371.7 355C377.23 353.49 382.77 351.66 388.3 350C393.87 348.33 399.43 346.67 405 345C410.57 343.33 416.13 341.54 421.7 340C427.23 338.47 432.77 337.01 438.3 335.8C443.77 334.61 449.23 334.15 454.7 332.8C458.13 331.95 461.57 329.88 465 329.2C473.33 327.55 481.67 326.78 490 325.8C498.33 324.82 506.67 324 515 323.3C519.73 322.9 524.47 322.84 529.2 322.5C538.37 321.84 547.53 320.88 556.7 320.3C562.23 319.95 567.77 319.76 573.3 319.7C577.2 319.66 581.1 319.56 585 320C589.43 320.5 593.87 321.66 598.3 322.5C605.7 323.9 613.1 325.3 620.5 326.7" fill="none" stroke="#0c0c0c" stroke-width="1.3"/>
<path d="M75.5 359.7C82 359.23 88.5 358.93 95 358.3C103.33 357.49 111.67 356.23 120 355.4C128.33 354.57 136.67 353.77 145 353.3C153.33 352.83 161.67 352.56 170 352.6C175.57 352.63 181.13 353.28 186.7 353.5C197.8 353.94 208.9 354.14 220 354.6C226.67 354.88 233.33 355.46 240 355.7C244.5 355.86 249 355.34 253.5 355.8C256.47 356.1 259.43 357.06 262.4 358C265.4 358.96 268.4 360.17 271.4 361.5C274.4 362.83 277.4 364.5 280.4 366C282.8 367.2 285.2 368.64 287.6 369.6C289.7 370.44 291.8 370.96 293.9 371.4C296.87 372.02 299.83 372.39 302.8 372.8C309.1 373.66 315.4 374.93 321.7 375.2C332.8 375.67 343.9 375.21 355 375C361.67 374.87 368.33 375.04 375 374.2C379.43 373.64 383.87 372.16 388.3 370.8C393.87 369.09 399.43 366.67 405 365C410.57 363.33 416.13 361.92 421.7 360.8C427.23 359.69 432.77 359.04 438.3 358.3C441.53 357.87 444.77 357.74 448 357.3C450.9 356.91 453.8 356.55 456.7 355.8C462.23 354.38 467.77 352.33 473.3 350.8C477.77 349.56 482.23 348.23 486.7 347.5C490.57 346.87 494.43 346.63 498.3 346.7C503.87 346.8 509.43 347.71 515 348C519.73 348.25 524.47 348.44 529.2 348.3C535.57 348.11 541.93 347.36 548.3 347C556.63 346.53 564.97 346.54 573.3 345.8C578.87 345.31 584.43 344.06 590 343.3C594.43 342.69 598.87 341.34 603.3 341.7C609.03 342.17 614.77 344.43 620.5 345.8" fill="none" stroke="#0c0c0c" stroke-width="1.3"/>
<path d="M75.5 364.2C82 363.83 88.5 363.57 95 363.1C103.33 362.5 111.67 361.63 120 361C128.33 360.37 136.67 359.58 145 359.3C153.33 359.02 161.67 359.12 170 359.3C175.57 359.42 181.13 360.03 186.7 360.2C197.8 360.53 208.9 360.53 220 360.8C226.67 360.96 233.33 361.52 240 361.5C243.9 361.49 247.8 360.39 251.7 360.7C255.27 360.99 258.83 362.09 262.4 363.3C265.4 364.32 268.4 365.75 271.4 367.4C274.4 369.05 277.4 371.29 280.4 373.2C282.8 374.73 285.2 376.58 287.6 377.7C289.7 378.68 291.8 379.07 293.9 379.5C296.87 380.11 299.83 380.3 302.8 380.8C309.1 381.87 315.4 383.69 321.7 384.2C332.8 385.09 343.9 385 355 385C361.67 385 368.33 385.04 375 384.2C379.43 383.64 383.87 382.04 388.3 380.8C393.87 379.24 399.43 377.18 405 375.8C410.57 374.42 416.13 373.3 421.7 372.5C427.8 371.63 433.9 371.53 440 370.8C445.57 370.13 451.13 369.51 456.7 368.3C463.9 366.74 471.1 363.85 478.3 362.5C484.43 361.35 490.57 360.52 496.7 360.8C502.8 361.08 508.9 363.17 515 364.2C519.73 365 524.47 366.14 529.2 366.3C535.57 366.51 541.93 365.22 548.3 365.3C552.2 365.35 556.1 366.21 560 366.7C563.33 367.11 566.67 368.14 570 368C573.9 367.84 577.8 366.06 581.7 365.8C588.9 365.32 596.1 364.38 603.3 365.8C606.1 366.35 608.9 369.26 611.7 371.7C613.37 373.16 615.03 375.3 616.7 377.5C617.97 379.17 619.23 381.37 620.5 383.3" fill="none" stroke="#0c0c0c" stroke-width="1.3"/>
<path d="M75.5 366.8C90.33 366.47 105.17 365.82 120 365.8C131.1 365.79 142.2 366.33 153.3 366.7C164.43 367.07 175.57 367.85 186.7 368C197.8 368.15 208.9 367.83 220 367.6C226.67 367.46 233.33 367.22 240 366.9C243.9 366.72 247.8 366.1 251.7 366.1C253.2 366.1 254.7 366.54 256.2 366.9C258.27 367.4 260.33 367.72 262.4 368.7C265.4 370.12 268.4 372 271.4 374.1C274.4 376.2 277.4 379.01 280.4 381.3C282.5 382.91 284.6 384.68 286.7 385.8C289.1 387.08 291.5 387.71 293.9 388.5C295.37 388.98 296.83 389.36 298.3 389.6C306.1 390.86 313.9 392.26 321.7 393C332.8 394.06 343.9 394.65 355 395C361.67 395.21 368.33 395.36 375 394.7C379.43 394.26 383.87 392.65 388.3 391.7C393.87 390.51 399.43 389.39 405 388.3C409.43 387.43 413.87 386.67 418.3 385.8C419.97 385.47 421.63 384.56 423.3 384.7C428.3 385.12 433.3 385.89 438.3 387.5C440.53 388.22 442.77 391.25 445 391.7C448.23 392.35 451.47 390.97 454.7 390.8C457.03 390.67 459.37 391.62 461.7 390.8C467.23 388.85 472.77 383.5 478.3 382.5C484.97 381.3 491.63 382.2 498.3 384.2C499.97 384.7 501.63 387.65 503.3 390C504.97 392.35 506.63 395.8 508.3 398.3C509.97 400.8 511.63 402.62 513.3 405C515.53 408.19 517.77 412.92 520 415C522.23 417.08 524.47 417.13 526.7 417.5C531.13 418.23 535.57 417.81 540 418.3C545.57 418.91 551.13 419.96 556.7 420.8C562.23 421.63 567.77 422.6 573.3 423.3C578.87 424 584.43 424.17 590 425C595.57 425.83 601.13 426.79 606.7 428.3C611.3 429.55 615.9 431.63 620.5 433.3" fill="none" stroke="#0c0c0c" stroke-width="1.3"/>
<path d="M75.5 380.2C90.33 379.87 105.17 379.24 120 379.2C131.1 379.17 142.2 379.45 153.3 380C164.43 380.55 175.57 381.6 186.7 382.5C196.13 383.26 205.57 383.3 215 385C219.43 385.8 223.87 387.85 228.3 390C231.1 391.35 233.9 393.67 236.7 395.5" fill="none" stroke="#0c0c0c" stroke-width="1.3"/>
<path d="M75.5 404.4C84.77 403.5 94.01 402.33 103.3 401.7C111.62 401.13 119.97 400.53 128.3 400.8C136.67 401.07 144.97 402.47 153.3 403.3C161.63 404.13 169.95 405.12 178.3 405.8C183.86 406.25 189.46 406.07 195 406.7C199.48 407.21 203.98 407.89 208.3 409.2C211.28 410.11 214.41 411.19 216.7 413.3C218.53 414.99 219.43 417.58 220 420C220.31 421.32 219.47 422.67 219.2 424" fill="none" stroke="#0c0c0c" stroke-width="1.3"/>
<path d="M251.7 371.9C253.8 372.2 255.97 372.19 258 372.8C260.47 373.54 262.86 374.61 265.1 375.9C266.76 376.86 268.4 378 269.6 379.5C270.86 381.07 271.62 383.01 272.3 384.9C272.89 386.54 273.19 388.27 273.4 390C273.69 392.32 273.87 394.66 273.8 397C273.73 399.35 273.44 401.69 273 404C272.67 405.71 272 407.33 271.5 409" fill="none" stroke="#0c0c0c" stroke-width="1.3"/>
<path d="M110 445.5C111.5 444 113 445 112.5 448L112 460C111.5 463 109.5 463 109.3 460L110.3 449Z" fill="none" stroke="#141414" stroke-width="0.7"/>
<path d="M75.5 292.6C79.23 292.3 82.97 291.9 86.7 291.7C91.13 291.46 95.57 291.46 100 291.3C108.9 290.99 117.8 290.63 126.7 290.3C136.7 289.93 146.7 289.47 156.7 289.2C166.7 288.93 176.7 288.78 186.7 288.7C197.8 288.61 208.9 288.6 220 288.7C231.1 288.8 242.2 288.91 253.3 289.3C262.2 289.61 271.1 290.33 280 290.8C286.1 291.13 292.2 291.7 298.3 291.7C306.1 291.7 313.9 291.08 321.7 290.8C332.8 290.41 343.9 290.05 355 289.7C366.1 289.35 377.2 288.87 388.3 288.7C399.43 288.53 410.57 288.53 421.7 288.7C432.7 288.87 443.7 289.44 454.7 289.7C466.47 289.98 478.23 290.13 490 290.3C503.07 290.49 516.13 290.64 529.2 290.8C543.9 290.98 558.6 291.3 573.3 291.3C584.43 291.3 595.57 291.04 606.7 290.8C611.3 290.7 615.9 290.47 620.5 290.3" fill="none" stroke="#fff" stroke-width="4.9" stroke-linejoin="round"/>
<path d="M75.5 300.2C79.23 299.7 82.97 299.06 86.7 298.7C92.23 298.16 97.77 297.83 103.3 297.5C111.37 297.03 119.43 296.72 127.5 296.3C137.23 295.79 146.97 295.05 156.7 294.7C166.7 294.35 176.7 294.15 186.7 294.2C197.8 294.25 208.9 294.62 220 295C231.1 295.38 242.2 295.89 253.3 296.5C262.2 296.99 271.1 297.67 280 298.3C286.1 298.73 292.2 299.57 298.3 299.7C306.1 299.87 313.9 299.5 321.7 299.2C332.8 298.77 343.9 297.98 355 297.5C366.1 297.02 377.2 296.58 388.3 296.3C399.43 296.02 410.57 295.8 421.7 295.8C432.7 295.8 443.7 296.22 454.7 296.3C466.47 296.39 478.23 296.19 490 296.3C503.07 296.42 516.13 296.69 529.2 297C543.9 297.35 558.6 297.73 573.3 298.3C584.43 298.73 595.57 299.29 606.7 300C611.3 300.29 615.9 300.87 620.5 301.3" fill="none" stroke="#fff" stroke-width="4.9" stroke-linejoin="round"/>
<path d="M75.5 343.1C82 342.63 88.5 342.14 95 341.7C102.23 341.21 109.47 340.43 116.7 340.3C126.13 340.13 135.57 340.5 145 340.8C153.33 341.07 161.67 341.66 170 342C175.57 342.23 181.13 342.36 186.7 342.5C197.8 342.79 208.9 342.9 220 343.3C228.33 343.6 236.67 344.18 245 344.6C247.83 344.74 250.67 344.58 253.5 345C256.47 345.44 259.43 346.24 262.4 347.2C265.4 348.17 268.4 349.45 271.4 350.8C274.4 352.15 277.4 353.88 280.4 355.3C283.4 356.72 286.4 358.16 289.4 359.3C292.1 360.33 294.8 361.33 297.5 361.8C300 362.23 302.5 362.04 305 362C310.57 361.91 316.13 361.6 321.7 361.4C327.23 361.2 332.77 360.75 338.3 360.8C343.87 360.85 349.43 361.7 355 361.7C360.57 361.7 366.13 361.5 371.7 360.8C377.23 360.1 382.77 358.97 388.3 357.5C392.2 356.47 396.1 354.95 400 353.3C403.33 351.89 406.67 349.96 410 348.3C412.23 347.19 414.47 346.12 416.7 345C417.8 344.45 418.9 343.17 420 343.3C421.1 343.43 422.2 345.25 423.3 345.8C425.53 346.92 427.77 347.72 430 348.3C432.77 349.02 435.53 349.42 438.3 349.7C442.2 350.09 446.1 350.24 450 350.3C452.23 350.34 454.47 350.54 456.7 350C459.47 349.34 462.23 347.95 465 346.7C467.77 345.45 470.53 343.74 473.3 342.5C476.1 341.24 478.9 340.12 481.7 339.2C484.47 338.29 487.23 337.37 490 337C492.77 336.63 495.53 336.83 498.3 337C501.1 337.17 503.9 337.63 506.7 338C509.47 338.36 512.23 338.92 515 339.2C517.77 339.48 520.53 339.6 523.3 339.7C525.27 339.77 527.23 339.87 529.2 339.7C531.13 339.53 533.07 339 535 338.7C537.77 338.27 540.53 337.75 543.3 337.5C547.77 337.09 552.23 336.91 556.7 336.7C560.57 336.51 564.43 336.55 568.3 336.3C571.63 336.08 574.97 335.82 578.3 335.3C580.53 334.95 582.77 334.19 585 333.7C587.77 333.09 590.53 332.31 593.3 332C595.53 331.75 597.77 331.63 600 332C602.23 332.37 604.47 333.36 606.7 334.2C608.9 335.03 611.1 336.35 613.3 337C615.7 337.71 618.1 337.87 620.5 338.3" fill="none" stroke="#fff" stroke-width="4.9" stroke-linejoin="round"/>
<path d="M75.5 370C84.77 369.9 94.03 369.56 103.3 369.7C111.63 369.83 119.97 370.33 128.3 370.8C136.63 371.27 144.97 371.89 153.3 372.5C162.77 373.19 172.23 374.23 181.7 374.7C188.9 375.06 196.1 375 203.3 375C208.87 375 214.43 375.3 220 374.7C225.57 374.1 231.13 372.57 236.7 371.4C237.8 371.17 238.9 370.73 240 370.5C243 369.87 246 369.02 249 368.8C252 368.58 255 368.53 258 369.2C260.97 369.86 263.93 371.14 266.9 372.8C269 373.97 271.1 375.7 273.2 377.7C274.7 379.13 276.2 380.85 277.7 383.1C278.6 384.45 279.5 386.31 280.4 388.5C281.37 390.85 282.33 393.59 283.3 396.7C283.87 398.52 284.43 400.29 285 403.3C285.27 404.72 285.53 407.74 285.8 410C286.03 411.98 286.27 414 286.5 416" fill="none" stroke="#fff" stroke-width="4.9" stroke-linejoin="round"/>
<path d="M311.7 415.8C313.9 415.53 316.1 415.68 318.3 415C320.53 414.31 322.77 413.28 325 411.7C326.67 410.52 328.33 407.95 330 406.7C331.67 405.45 333.33 404.56 335 404.2C337.23 403.72 339.47 403.51 341.7 404.2C343.9 404.88 346.1 408.04 348.3 408.3C350.53 408.57 352.77 406.41 355 405.8C357.77 405.04 360.53 404.75 363.3 404.2C366.1 403.65 368.9 403.28 371.7 402.5C373.9 401.88 376.1 400.69 378.3 400C380.53 399.29 382.77 397.98 385 398.3C386.67 398.54 388.33 401.83 390 401.7C391.67 401.57 393.33 399.19 395 397.5C396.1 396.39 397.2 393.66 398.3 393.3C400.53 392.56 402.77 393.26 405 394.2C406.1 394.66 407.2 395.3 408.3 397.5C409.13 399.17 409.97 403.83 410.8 405.8C412.2 409.1 413.6 411.06 415 413.3C415.83 414.63 416.67 415.43 417.5 416.5" fill="none" stroke="#fff" stroke-width="4.9" stroke-linejoin="round"/>
<path d="M415.8 395L420.8 390V399.2Z" fill="none" stroke="#fff" stroke-width="3.6" stroke-linejoin="round"/>
<path d="M75.5 292.6C79.23 292.3 82.97 291.9 86.7 291.7C91.13 291.46 95.57 291.46 100 291.3C108.9 290.99 117.8 290.63 126.7 290.3C136.7 289.93 146.7 289.47 156.7 289.2C166.7 288.93 176.7 288.78 186.7 288.7C197.8 288.61 208.9 288.6 220 288.7C231.1 288.8 242.2 288.91 253.3 289.3C262.2 289.61 271.1 290.33 280 290.8C286.1 291.13 292.2 291.7 298.3 291.7C306.1 291.7 313.9 291.08 321.7 290.8C332.8 290.41 343.9 290.05 355 289.7C366.1 289.35 377.2 288.87 388.3 288.7C399.43 288.53 410.57 288.53 421.7 288.7C432.7 288.87 443.7 289.44 454.7 289.7C466.47 289.98 478.23 290.13 490 290.3C503.07 290.49 516.13 290.64 529.2 290.8C543.9 290.98 558.6 291.3 573.3 291.3C584.43 291.3 595.57 291.04 606.7 290.8C611.3 290.7 615.9 290.47 620.5 290.3" fill="none" stroke="#4cb414" stroke-width="1.7" stroke-linejoin="round"/>
<path d="M75.5 300.2C79.23 299.7 82.97 299.06 86.7 298.7C92.23 298.16 97.77 297.83 103.3 297.5C111.37 297.03 119.43 296.72 127.5 296.3C137.23 295.79 146.97 295.05 156.7 294.7C166.7 294.35 176.7 294.15 186.7 294.2C197.8 294.25 208.9 294.62 220 295C231.1 295.38 242.2 295.89 253.3 296.5C262.2 296.99 271.1 297.67 280 298.3C286.1 298.73 292.2 299.57 298.3 299.7C306.1 299.87 313.9 299.5 321.7 299.2C332.8 298.77 343.9 297.98 355 297.5C366.1 297.02 377.2 296.58 388.3 296.3C399.43 296.02 410.57 295.8 421.7 295.8C432.7 295.8 443.7 296.22 454.7 296.3C466.47 296.39 478.23 296.19 490 296.3C503.07 296.42 516.13 296.69 529.2 297C543.9 297.35 558.6 297.73 573.3 298.3C584.43 298.73 595.57 299.29 606.7 300C611.3 300.29 615.9 300.87 620.5 301.3" fill="none" stroke="#4cb414" stroke-width="1.7" stroke-linejoin="round"/>
<path d="M75.5 343.1C82 342.63 88.5 342.14 95 341.7C102.23 341.21 109.47 340.43 116.7 340.3C126.13 340.13 135.57 340.5 145 340.8C153.33 341.07 161.67 341.66 170 342C175.57 342.23 181.13 342.36 186.7 342.5C197.8 342.79 208.9 342.9 220 343.3C228.33 343.6 236.67 344.18 245 344.6C247.83 344.74 250.67 344.58 253.5 345C256.47 345.44 259.43 346.24 262.4 347.2C265.4 348.17 268.4 349.45 271.4 350.8C274.4 352.15 277.4 353.88 280.4 355.3C283.4 356.72 286.4 358.16 289.4 359.3C292.1 360.33 294.8 361.33 297.5 361.8C300 362.23 302.5 362.04 305 362C310.57 361.91 316.13 361.6 321.7 361.4C327.23 361.2 332.77 360.75 338.3 360.8C343.87 360.85 349.43 361.7 355 361.7C360.57 361.7 366.13 361.5 371.7 360.8C377.23 360.1 382.77 358.97 388.3 357.5C392.2 356.47 396.1 354.95 400 353.3C403.33 351.89 406.67 349.96 410 348.3C412.23 347.19 414.47 346.12 416.7 345C417.8 344.45 418.9 343.17 420 343.3C421.1 343.43 422.2 345.25 423.3 345.8C425.53 346.92 427.77 347.72 430 348.3C432.77 349.02 435.53 349.42 438.3 349.7C442.2 350.09 446.1 350.24 450 350.3C452.23 350.34 454.47 350.54 456.7 350C459.47 349.34 462.23 347.95 465 346.7C467.77 345.45 470.53 343.74 473.3 342.5C476.1 341.24 478.9 340.12 481.7 339.2C484.47 338.29 487.23 337.37 490 337C492.77 336.63 495.53 336.83 498.3 337C501.1 337.17 503.9 337.63 506.7 338C509.47 338.36 512.23 338.92 515 339.2C517.77 339.48 520.53 339.6 523.3 339.7C525.27 339.77 527.23 339.87 529.2 339.7C531.13 339.53 533.07 339 535 338.7C537.77 338.27 540.53 337.75 543.3 337.5C547.77 337.09 552.23 336.91 556.7 336.7C560.57 336.51 564.43 336.55 568.3 336.3C571.63 336.08 574.97 335.82 578.3 335.3C580.53 334.95 582.77 334.19 585 333.7C587.77 333.09 590.53 332.31 593.3 332C595.53 331.75 597.77 331.63 600 332C602.23 332.37 604.47 333.36 606.7 334.2C608.9 335.03 611.1 336.35 613.3 337C615.7 337.71 618.1 337.87 620.5 338.3" fill="none" stroke="#4cb414" stroke-width="1.7" stroke-linejoin="round"/>
<path d="M75.5 370C84.77 369.9 94.03 369.56 103.3 369.7C111.63 369.83 119.97 370.33 128.3 370.8C136.63 371.27 144.97 371.89 153.3 372.5C162.77 373.19 172.23 374.23 181.7 374.7C188.9 375.06 196.1 375 203.3 375C208.87 375 214.43 375.3 220 374.7C225.57 374.1 231.13 372.57 236.7 371.4C237.8 371.17 238.9 370.73 240 370.5C243 369.87 246 369.02 249 368.8C252 368.58 255 368.53 258 369.2C260.97 369.86 263.93 371.14 266.9 372.8C269 373.97 271.1 375.7 273.2 377.7C274.7 379.13 276.2 380.85 277.7 383.1C278.6 384.45 279.5 386.31 280.4 388.5C281.37 390.85 282.33 393.59 283.3 396.7C283.87 398.52 284.43 400.29 285 403.3C285.27 404.72 285.53 407.74 285.8 410C286.03 411.98 286.27 414 286.5 416" fill="none" stroke="#4cb414" stroke-width="1.7" stroke-linejoin="round"/>
<path d="M311.7 415.8C313.9 415.53 316.1 415.68 318.3 415C320.53 414.31 322.77 413.28 325 411.7C326.67 410.52 328.33 407.95 330 406.7C331.67 405.45 333.33 404.56 335 404.2C337.23 403.72 339.47 403.51 341.7 404.2C343.9 404.88 346.1 408.04 348.3 408.3C350.53 408.57 352.77 406.41 355 405.8C357.77 405.04 360.53 404.75 363.3 404.2C366.1 403.65 368.9 403.28 371.7 402.5C373.9 401.88 376.1 400.69 378.3 400C380.53 399.29 382.77 397.98 385 398.3C386.67 398.54 388.33 401.83 390 401.7C391.67 401.57 393.33 399.19 395 397.5C396.1 396.39 397.2 393.66 398.3 393.3C400.53 392.56 402.77 393.26 405 394.2C406.1 394.66 407.2 395.3 408.3 397.5C409.13 399.17 409.97 403.83 410.8 405.8C412.2 409.1 413.6 411.06 415 413.3C415.83 414.63 416.67 415.43 417.5 416.5" fill="none" stroke="#4cb414" stroke-width="1.7" stroke-linejoin="round"/>
<path d="M415.8 395L420.8 390V399.2Z" fill="none" stroke="#4cb414" stroke-width="1.3" stroke-linejoin="round"/>
<path d="M563 426.5L572 429.5L580 427L586 432L592 427.5L598 435L604 431L612 436L620.5 440" fill="none" stroke="#fff" stroke-width="3.5"/>
<path d="M563 427L572 430L580 427.5L586 432.5L592 428L598 435.5L604 431.5L612 436.5L620.5 440.5" fill="none" stroke="#4cb414" stroke-width="1.3"/>
<path d="M75.5 509.5L85.8 509L88.3 496.5L91.7 484.8L95 476.5L100 468.2L108.3 466.8L118.3 460.7L125 454L133.3 445.7L138.3 443.2L146.7 434.8L155.8 429.8L163.3 434.8L172.5 443.2L180 441.2L186.7 442.8L195 447.3L202.5 448.5L210 443.2L215 434.8L220 424.8L228.3 408.2L236.7 394.8L241 390.7L244.4 388.5L248.4 386.7L255.4 386.7L258 388.1L260.5 389.9L263.3 393.1L271.7 401L280 408.2L288.3 413.2L298.3 417.8L305 416.5L313 418L321.7 418.5L330 414L338.3 417.3L348.3 419.8L355 424L360 424.8L365 422.3L371.7 421.2L381.7 417.3L391.7 414.8L401.7 415.7L410 417.3L416.7 419.8L422.5 399L428.3 419.8L435 423.2L443.3 427L448.3 432.7L456.7 436.8L461.7 434.3L466.7 428.5L473.3 416L481.7 404.3L488.3 398.5L494.2 396L500 397.2L506.7 401L515 410.2L523.3 419.3L529.2 423.8L535 421.8L541.7 416.8L548.3 412.7L554.2 412.7L558.3 419.3L565 427.2L571.7 429.3L578.3 425.5L584.2 433.2L590.8 425.5L596.7 436L602.5 430.2L608.3 433.8L613.3 436.8L616.7 441L620.5 438.5L620.5 509.5 L75.5 509.5 Z" fill="#d0d0d0"/><path d="M85.8 509L88.3 496.5L91.7 484.8L95 476.5L100 468.2L108.3 466.8L118.3 460.7L125 454L133.3 445.7L138.3 443.2L146.7 434.8L155.8 429.8L163.3 434.8L172.5 443.2L180 441.2L186.7 442.8L195 447.3L202.5 448.5L210 443.2L215 434.8L220 424.8L228.3 408.2L236.7 394.8L241 390.7L244.4 388.5L248.4 386.7L255.4 386.7L258 388.1L260.5 389.9L263.3 393.1L271.7 401L280 408.2L288.3 413.2L298.3 417.8L305 416.5L313 418L321.7 418.5L330 414L338.3 417.3L348.3 419.8L355 424L360 424.8L365 422.3L371.7 421.2L381.7 417.3L391.7 414.8L401.7 415.7L410 417.3L416.7 419.8L422.5 399L428.3 419.8L435 423.2L443.3 427L448.3 432.7L456.7 436.8L461.7 434.3L466.7 428.5L473.3 416L481.7 404.3L488.3 398.5L494.2 396L500 397.2L506.7 401L515 410.2L523.3 419.3L529.2 423.8L535 421.8L541.7 416.8L548.3 412.7L554.2 412.7L558.3 419.3L565 427.2L571.7 429.3L578.3 425.5L584.2 433.2L590.8 425.5L596.7 436L602.5 430.2L608.3 433.8L613.3 436.8L616.7 441L620.5 438.5" fill="none" stroke="#0a0a0a" stroke-width="1.9" stroke-linejoin="round"/>
</g>
<path d="M188.3 282.5 V509.5" stroke="#1a1a1a" stroke-width="1.4" stroke-dasharray="5.6 3" fill="none"/><path d="M298.7 282.5 V509.5" stroke="#1a1a1a" stroke-width="1.4" stroke-dasharray="5.6 3" fill="none"/><path d="M422.5 282.5 V509.5" stroke="#1a1a1a" stroke-width="1.4" stroke-dasharray="5.6 3" fill="none"/><path d="M529.2 282.5 V509.5" stroke="#1a1a1a" stroke-width="1.4" stroke-dasharray="5.6 3" fill="none"/><path d="M75.5 509.5 v-8M75.5 281.5 v7.2M111.1 509.5 v-4.5M111.1 281.5 v4.05M146.7 509.5 v-4.5M146.7 281.5 v4.05M182.3 509.5 v-4.5M182.3 281.5 v4.05M217.9 509.5 v-4.5M217.9 281.5 v4.05M253.5 509.5 v-8M253.5 281.5 v7.2M289.1 509.5 v-4.5M289.1 281.5 v4.05M324.7 509.5 v-4.5M324.7 281.5 v4.05M360.3 509.5 v-4.5M360.3 281.5 v4.05M395.9 509.5 v-4.5M395.9 281.5 v4.05M431.5 509.5 v-8M431.5 281.5 v7.2M467.1 509.5 v-4.5M467.1 281.5 v4.05M502.7 509.5 v-4.5M502.7 281.5 v4.05M538.3 509.5 v-4.5M538.3 281.5 v4.05M573.9 509.5 v-4.5M573.9 281.5 v4.05M609.5 509.5 v-8M609.5 281.5 v7.2M75.5 281.5 h8.6M620.5 281.5 h-8.6M75.5 300.5 h8.6M620.5 300.5 h-8.6M75.5 319.5 h8.6M620.5 319.5 h-8.6M75.5 338.5 h8.6M620.5 338.5 h-8.6M75.5 357.5 h8.6M620.5 357.5 h-8.6M75.5 376.5 h8.6M620.5 376.5 h-8.6M75.5 395.5 h8.6M620.5 395.5 h-8.6M75.5 414.5 h8.6M620.5 414.5 h-8.6M75.5 433.5 h8.6M620.5 433.5 h-8.6M75.5 452.5 h8.6M620.5 452.5 h-8.6M75.5 471.5 h8.6M620.5 471.5 h-8.6M75.5 490.5 h8.6M620.5 490.5 h-8.6M75.5 509.5 h8.6M620.5 509.5 h-8.6" stroke="#0a0a0a" stroke-width="1.6" fill="none"/><rect x="75.5" y="281.5" width="545" height="228" fill="none" stroke="#0a0a0a" stroke-width="1.7"/>
<rect x="627.8" y="53.6" width="8.6" height="32.9" fill="#ea68aa"/><rect x="627.8" y="86.2" width="8.6" height="32.9" fill="#a52a2a"/><rect x="627.8" y="118.8" width="8.6" height="16.6" fill="#c4202a"/><rect x="627.8" y="135.1" width="8.6" height="32.9" fill="#e81c1e"/><rect x="627.8" y="167.7" width="8.6" height="32.9" fill="#ee771c"/><rect x="627.8" y="200.3" width="8.6" height="32.9" fill="#f5a21c"/><rect x="627.8" y="232.9" width="8.6" height="16.6" fill="#f8d63a"/><rect x="627.8" y="249.2" width="8.6" height="32.9" fill="#fbf6cc"/><rect x="627.8" y="281.8" width="8.6" height="32.9" fill="#d6e8f6"/><rect x="627.8" y="314.4" width="8.6" height="32.9" fill="#a6c8ea"/><rect x="627.8" y="347" width="8.6" height="16.6" fill="#28a8e8"/><rect x="627.8" y="363.3" width="8.6" height="32.9" fill="#3c7ccc"/><rect x="627.8" y="395.9" width="8.6" height="16.6" fill="#3a60b6"/><rect x="627.8" y="412.2" width="8.6" height="16.6" fill="#3058b0"/><rect x="627.8" y="428.5" width="8.6" height="32.9" fill="#1040a0"/><rect x="627.8" y="461.1" width="8.6" height="16.6" fill="#243c8c"/><rect x="627.8" y="477.4" width="8.6" height="32.9" fill="#6a4ab0"/><path d="M627.8 151.4 H636.4" stroke="#0a0a0a" stroke-width="0.9"/><path d="M627.8 216.6 H636.4" stroke="#0a0a0a" stroke-width="0.9"/><path d="M627.8 412.2 H636.4" stroke="#0a0a0a" stroke-width="0.9"/><rect x="627.8" y="53.6" width="8.6" height="455.6" fill="none" stroke="#0a0a0a" stroke-width="1.4"/><text x="657.2" y="96" font-size="15" text-anchor="start" textLength="20.1" lengthAdjust="spacingAndGlyphs" >0.8</text><text x="657" y="160.6" font-size="15" text-anchor="start" textLength="20.3" lengthAdjust="spacingAndGlyphs" >0.4</text><text x="657" y="225.2" font-size="15" text-anchor="start" textLength="19.6" lengthAdjust="spacingAndGlyphs" >0.0</text><text x="645.2" y="290.3" font-size="15" text-anchor="start" textLength="28.8" lengthAdjust="spacingAndGlyphs" >−0.4</text><text x="645.2" y="354.9" font-size="15" text-anchor="start" textLength="28.8" lengthAdjust="spacingAndGlyphs" >−0.8</text><text x="644.6" y="419.6" font-size="15" text-anchor="start" textLength="28.4" lengthAdjust="spacingAndGlyphs" >−1.2</text><text x="644.1" y="484.3" font-size="15" text-anchor="start" textLength="28.5" lengthAdjust="spacingAndGlyphs" >−1.6</text><text x="657.6" y="502.5" font-size="14.5" text-anchor="start" textLength="25.9" lengthAdjust="spacingAndGlyphs" >(˚C)</text><text x="632.4" y="43.7" font-size="18.2" text-anchor="start">水温</text>
<text x="3.6" y="31.2" font-size="18" text-anchor="start" textLength="25.1" lengthAdjust="spacingAndGlyphs" stroke="#0a0a0a" stroke-width="0.5" >(a)</text><text x="1.2" y="285.6" font-size="16.5" text-anchor="start" textLength="24.1" lengthAdjust="spacingAndGlyphs" stroke="#0a0a0a" stroke-width="0.5" >(b)</text><text x="75.1" y="22.6" font-size="15" text-anchor="start" textLength="11.6" lengthAdjust="spacingAndGlyphs" stroke="#0a0a0a" stroke-width="0.5" >A</text><text x="611.9" y="22.5" font-size="15" text-anchor="start" textLength="10.7" lengthAdjust="spacingAndGlyphs" stroke="#0a0a0a" stroke-width="0.5" >B</text><text x="258.7" y="13.7" font-size="14" text-anchor="start" textLength="84.6" lengthAdjust="spacingAndGlyphs" stroke="#0a0a0a" stroke-width="0.6" >LH1a-LGC</text><text x="374.2" y="13.7" font-size="14" text-anchor="start" textLength="88.5" lengthAdjust="spacingAndGlyphs" stroke="#0a0a0a" stroke-width="0.6" >81-110402</text><text x="511.7" y="13.8" font-size="14" text-anchor="start" textLength="34.9" lengthAdjust="spacingAndGlyphs" stroke="#0a0a0a" stroke-width="0.6" >SL-1</text><text x="70.2" y="34.9" font-size="15" text-anchor="end" textLength="7.84" lengthAdjust="spacingAndGlyphs" stroke="#0a0a0a" stroke-width="0.2" >0</text><text x="70.2" y="72.9" font-size="15" text-anchor="end" textLength="23.52" lengthAdjust="spacingAndGlyphs" stroke="#0a0a0a" stroke-width="0.2" >200</text><text x="70.2" y="110.9" font-size="15" text-anchor="end" textLength="23.52" lengthAdjust="spacingAndGlyphs" stroke="#0a0a0a" stroke-width="0.2" >400</text><text x="70.2" y="148.9" font-size="15" text-anchor="end" textLength="23.52" lengthAdjust="spacingAndGlyphs" stroke="#0a0a0a" stroke-width="0.2" >600</text><text x="70.2" y="186.9" font-size="15" text-anchor="end" textLength="23.52" lengthAdjust="spacingAndGlyphs" stroke="#0a0a0a" stroke-width="0.2" >800</text><text x="70.2" y="224.9" font-size="15" text-anchor="end" textLength="31.36" lengthAdjust="spacingAndGlyphs" stroke="#0a0a0a" stroke-width="0.2" >1000</text><text x="70.2" y="262.9" font-size="15" text-anchor="end" textLength="31.36" lengthAdjust="spacingAndGlyphs" stroke="#0a0a0a" stroke-width="0.2" >1200</text><text x="76.9" y="272" font-size="15" text-anchor="middle" textLength="7.84" lengthAdjust="spacingAndGlyphs" stroke="#0a0a0a" stroke-width="0.2" >0</text><text x="252.7" y="272" font-size="15" text-anchor="middle" textLength="15.68" lengthAdjust="spacingAndGlyphs" stroke="#0a0a0a" stroke-width="0.2" >50</text><text x="430.7" y="272" font-size="15" text-anchor="middle" textLength="23.52" lengthAdjust="spacingAndGlyphs" stroke="#0a0a0a" stroke-width="0.2" >100</text><text x="608.4" y="272" font-size="15" text-anchor="middle" textLength="23.52" lengthAdjust="spacingAndGlyphs" stroke="#0a0a0a" stroke-width="0.2" >150</text><path d="M294.6 20 H302.8 L298.7 26.8 Z" fill="#fff" stroke="#0a0a0a" stroke-width="1.2" stroke-linejoin="miter"/><g transform="translate(34.4 168.1) rotate(-90)"><text x="0" y="0" font-size="17.4" text-anchor="start">水深</text><text x="40.8" y="-1.2" font-size="17.3" text-anchor="start" textLength="26.6" lengthAdjust="spacingAndGlyphs" stroke="#0a0a0a" stroke-width="0.2" >(m)</text></g><text x="70.2" y="288.4" font-size="15" text-anchor="end" textLength="7.84" lengthAdjust="spacingAndGlyphs" stroke="#0a0a0a" stroke-width="0.2" >0</text><text x="70.2" y="326.4" font-size="15" text-anchor="end" textLength="23.52" lengthAdjust="spacingAndGlyphs" stroke="#0a0a0a" stroke-width="0.2" >200</text><text x="70.2" y="364.4" font-size="15" text-anchor="end" textLength="23.52" lengthAdjust="spacingAndGlyphs" stroke="#0a0a0a" stroke-width="0.2" >400</text><text x="70.2" y="402.4" font-size="15" text-anchor="end" textLength="23.52" lengthAdjust="spacingAndGlyphs" stroke="#0a0a0a" stroke-width="0.2" >600</text><text x="70.2" y="440.4" font-size="15" text-anchor="end" textLength="23.52" lengthAdjust="spacingAndGlyphs" stroke="#0a0a0a" stroke-width="0.2" >800</text><text x="70.2" y="478.4" font-size="15" text-anchor="end" textLength="31.36" lengthAdjust="spacingAndGlyphs" stroke="#0a0a0a" stroke-width="0.2" >1000</text><text x="70.2" y="516.4" font-size="15" text-anchor="end" textLength="31.36" lengthAdjust="spacingAndGlyphs" stroke="#0a0a0a" stroke-width="0.2" >1200</text><text x="76.9" y="526.9" font-size="15" text-anchor="middle" textLength="7.84" lengthAdjust="spacingAndGlyphs" stroke="#0a0a0a" stroke-width="0.2" >0</text><text x="252.7" y="526.9" font-size="15" text-anchor="middle" textLength="15.68" lengthAdjust="spacingAndGlyphs" stroke="#0a0a0a" stroke-width="0.2" >50</text><text x="430.7" y="526.9" font-size="15" text-anchor="middle" textLength="23.52" lengthAdjust="spacingAndGlyphs" stroke="#0a0a0a" stroke-width="0.2" >100</text><text x="608.4" y="526.9" font-size="15" text-anchor="middle" textLength="23.52" lengthAdjust="spacingAndGlyphs" stroke="#0a0a0a" stroke-width="0.2" >150</text><path d="M294.6 273.5 H302.8 L298.7 280.3 Z" fill="#fff" stroke="#0a0a0a" stroke-width="1.2" stroke-linejoin="miter"/><g transform="translate(34.4 426.9) rotate(-90)"><text x="0" y="0" font-size="17.4" text-anchor="start">水深</text><text x="40.8" y="-1.2" font-size="17.3" text-anchor="start" textLength="26.6" lengthAdjust="spacingAndGlyphs" stroke="#0a0a0a" stroke-width="0.2" >(m)</text></g><g><text x="137.3" y="45.68" font-size="13" text-anchor="middle" textLength="26.06" lengthAdjust="spacingAndGlyphs" stroke="#fff" stroke-width="3.4" stroke-linejoin="round" fill="#fff">27.4</text><text x="137.3" y="45.68" font-size="13" text-anchor="middle" textLength="26.06" lengthAdjust="spacingAndGlyphs">27.4</text></g><g><text x="138" y="64.18" font-size="13" text-anchor="middle" textLength="26.06" lengthAdjust="spacingAndGlyphs" stroke="#fff" stroke-width="3.4" stroke-linejoin="round" fill="#fff">27.5</text><text x="138" y="64.18" font-size="13" text-anchor="middle" textLength="26.06" lengthAdjust="spacingAndGlyphs">27.5</text></g><g><text x="156.6" y="101.68" font-size="13" text-anchor="middle" textLength="26.06" lengthAdjust="spacingAndGlyphs" stroke="#fff" stroke-width="3.4" stroke-linejoin="round" fill="#fff">27.6</text><text x="156.6" y="101.68" font-size="13" text-anchor="middle" textLength="26.06" lengthAdjust="spacingAndGlyphs">27.6</text></g><g><text x="167.2" y="130.28" font-size="13" text-anchor="middle" textLength="26.06" lengthAdjust="spacingAndGlyphs" stroke="#fff" stroke-width="3.4" stroke-linejoin="round" fill="#fff">27.7</text><text x="167.2" y="130.28" font-size="13" text-anchor="middle" textLength="26.06" lengthAdjust="spacingAndGlyphs">27.7</text></g><g><text x="112.6" y="296.18" font-size="13" text-anchor="middle" textLength="26.06" lengthAdjust="spacingAndGlyphs" stroke="#fff" stroke-width="3.4" stroke-linejoin="round" fill="#fff">27.4</text><text x="112.6" y="296.18" font-size="13" text-anchor="middle" textLength="26.06" lengthAdjust="spacingAndGlyphs">27.4</text></g><g><text x="141.7" y="301.38" font-size="13" text-anchor="middle" textLength="26.06" lengthAdjust="spacingAndGlyphs" stroke="#fff" stroke-width="3.4" stroke-linejoin="round" fill="#fff">27.5</text><text x="141.7" y="301.38" font-size="13" text-anchor="middle" textLength="26.06" lengthAdjust="spacingAndGlyphs">27.5</text></g><g><text x="130" y="345.68" font-size="13" text-anchor="middle" textLength="26.06" lengthAdjust="spacingAndGlyphs" stroke="#fff" stroke-width="3.4" stroke-linejoin="round" fill="#fff">27.6</text><text x="130" y="345.68" font-size="13" text-anchor="middle" textLength="26.06" lengthAdjust="spacingAndGlyphs">27.6</text></g><g><text x="167" y="378.08" font-size="13" text-anchor="middle" textLength="26.06" lengthAdjust="spacingAndGlyphs" stroke="#fff" stroke-width="3.4" stroke-linejoin="round" fill="#fff">27.7</text><text x="167" y="378.08" font-size="13" text-anchor="middle" textLength="26.06" lengthAdjust="spacingAndGlyphs">27.7</text></g><text x="265.5" y="549.3" font-size="17.8" text-anchor="start">湾入口からの距離</text><text x="415" y="549.3" font-size="16.5" text-anchor="start" textLength="35" lengthAdjust="spacingAndGlyphs" >(km)</text><path d="M303.3 180.5L317.5 149.7V180.5" fill="#fff" stroke="#0a0a0a" stroke-width="1.2" stroke-linejoin="miter"/><rect x="277.2" y="179.7" width="170.3" height="55.8" rx="13" ry="13" fill="#fff" stroke="#0a0a0a" stroke-width="1.5"/><path d="M304.3 180.4H316.8" stroke="#fff" stroke-width="2"/><text x="290.5" y="203.2" font-size="20" text-anchor="start">暖かい深層水が</text><text x="289.8" y="228" font-size="20" text-anchor="start">厚く流入する</text><rect x="478.7" y="209.2" width="118.8" height="28" fill="#fff" stroke="#0a0a0a" stroke-width="1.2"/><text x="488.3" y="230.5" font-size="19.6" text-anchor="start">融け水有り</text><rect x="478.7" y="465.8" width="118.8" height="28" fill="#fff" stroke="#0a0a0a" stroke-width="1.2"/><text x="488.3" y="487.1" font-size="19.6" text-anchor="start">融け水無し</text>
<path d="M789.2 421.2 v-10.7M789.2 30 v10.7M828.18 421.2 v-5.2M828.18 30 v5.2M867.16 421.2 v-5.2M867.16 30 v5.2M906.14 421.2 v-5.2M906.14 30 v5.2M945.12 421.2 v-5.2M945.12 30 v5.2M984.1 421.2 v-10.7M984.1 30 v10.7M1023.08 421.2 v-5.2M1023.08 30 v5.2M1062.06 421.2 v-5.2M1062.06 30 v5.2M1101.04 421.2 v-5.2M1101.04 30 v5.2M1140.02 421.2 v-5.2M1140.02 30 v5.2M1179 421.2 v-10.7M1179 30 v10.7M781.3 415.8 h10.7M1199.2 415.8 h-10.7M781.3 360.6 h6M1199.2 360.6 h-6M781.3 305.4 h10.7M1199.2 305.4 h-10.7M781.3 250.2 h6M1199.2 250.2 h-6M781.3 195 h10.7M1199.2 195 h-10.7M781.3 139.8 h6M1199.2 139.8 h-6M781.3 84.6 h10.7M1199.2 84.6 h-10.7" stroke="#0a0a0a" stroke-width="1.5" fill="none"/><rect x="781.3" y="30" width="417.9" height="391.2" fill="none" stroke="#0a0a0a" stroke-width="1.5"/><path d="M789.2 415.8L828.18 341.56L867.16 230.88L984.1 109.16L1179 68.32" fill="none" stroke="#0a0a0a" stroke-width="1.5"/><path d="M910.15 277.16L976.29 195.47L985.39 202.84L999.3 155.3L955.7 178.8L964.79 186.16L898.65 267.84Z" fill="#e8590c" stroke="#0a0a0a" stroke-width="1.2" stroke-linejoin="miter"/><circle cx="789.2" cy="415.8" r="7.7" fill="#000" stroke="#0a0a0a" stroke-width="1.4"/><circle cx="828.18" cy="341.56" r="7.7" fill="#6ab42a" stroke="#0a0a0a" stroke-width="1.4"/><circle cx="867.16" cy="230.88" r="7.7" fill="#f5a623" stroke="#0a0a0a" stroke-width="1.4"/><circle cx="984.1" cy="109.16" r="7.7" fill="#e8161c" stroke="#0a0a0a" stroke-width="1.4"/><circle cx="1179" cy="68.32" r="7.7" fill="#7242a2" stroke="#0a0a0a" stroke-width="1.4"/><rect x="876.5" y="296.6" width="299.8" height="90.7" rx="19" ry="19" fill="#fbdfd0" stroke="#0a0a0a" stroke-width="1.2"/><text x="895.6" y="323.2" font-size="20.2" text-anchor="start">南極由来の融け水が増えれば</text><text x="895" y="349.2" font-size="20.2" text-anchor="start">増えるほど，湾内に流入する</text><text x="895.2" y="374.6" font-size="20.2" text-anchor="start">深層水の温度が上昇する</text><text x="774.5" y="310.8" font-size="14.5" text-anchor="end" >0.2</text><text x="774.5" y="200.4" font-size="14.5" text-anchor="end" >0.4</text><text x="774.5" y="90" font-size="14.5" text-anchor="end" >0.6</text><text x="789.2" y="438.9" font-size="14" text-anchor="middle" >0</text><text x="984.1" y="438.9" font-size="14" text-anchor="middle" >5</text><text x="1179" y="438.9" font-size="14" text-anchor="middle" >10</text><text x="707.5" y="37.2" font-size="17.5" text-anchor="start" textLength="24.3" lengthAdjust="spacingAndGlyphs" stroke="#0a0a0a" stroke-width="0.4" >(c)</text><text x="929.5" y="465.6" font-size="17.6" text-anchor="start">融け水量</text><text x="1021.5" y="465.6" font-size="17.6" text-anchor="end">（</text><text x="1029.5" y="465.6" font-size="17.6" text-anchor="middle">×</text><text x="1041.2" y="465.6" font-size="17.6" text-anchor="start">倍数</text><text x="1076.5" y="465.6" font-size="17.6" text-anchor="start">）</text><g transform="translate(743.2 284.8) rotate(-90)"><text x="0" y="0" font-size="17.7" text-anchor="start">底層水温</text><text x="76.2" y="0" font-size="16" text-anchor="start" textLength="32" lengthAdjust="spacingAndGlyphs" >(˚C)</text></g>
</svg></body></html>
